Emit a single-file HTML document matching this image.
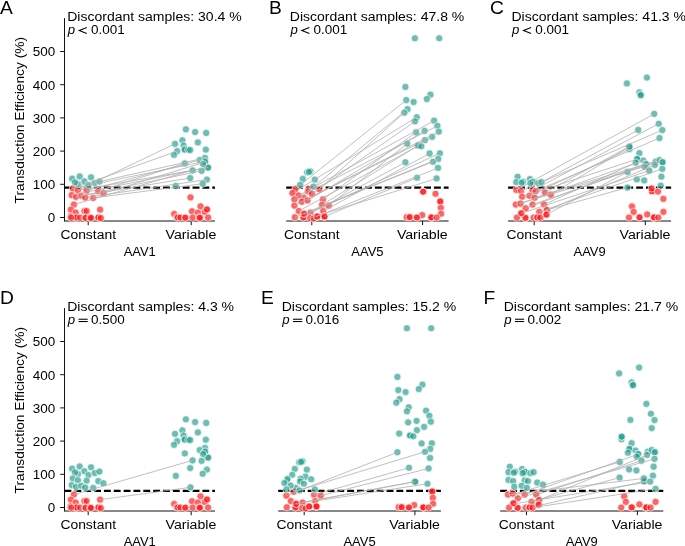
<!DOCTYPE html>
<html><head><meta charset="utf-8"><style>
html,body{margin:0;padding:0;background:#fff;}
svg{display:block;will-change:transform;}
text{font-family:'Liberation Sans',sans-serif;fill:#000;}
</style></head><body>
<svg width="685" height="546" viewBox="0 0 685 546">
<rect width="685" height="546" fill="#fff"/>
<g>
<line x1="64.5" y1="18.10" x2="64.5" y2="221.50" stroke="#111" stroke-width="1"/>
<line x1="60.2" y1="217.50" x2="64.5" y2="217.50" stroke="#111" stroke-width="1"/>
<text x="55.30" y="222.35" font-size="13" text-anchor="end" textLength="7.5" lengthAdjust="spacingAndGlyphs" style="">0</text>
<line x1="60.2" y1="184.30" x2="64.5" y2="184.30" stroke="#111" stroke-width="1"/>
<text x="55.30" y="189.15" font-size="13" text-anchor="end" textLength="22.5" lengthAdjust="spacingAndGlyphs" style="">100</text>
<line x1="60.2" y1="151.10" x2="64.5" y2="151.10" stroke="#111" stroke-width="1"/>
<text x="55.30" y="155.95" font-size="13" text-anchor="end" textLength="22.5" lengthAdjust="spacingAndGlyphs" style="">200</text>
<line x1="60.2" y1="117.90" x2="64.5" y2="117.90" stroke="#111" stroke-width="1"/>
<text x="55.30" y="122.75" font-size="13" text-anchor="end" textLength="22.5" lengthAdjust="spacingAndGlyphs" style="">300</text>
<line x1="60.2" y1="84.70" x2="64.5" y2="84.70" stroke="#111" stroke-width="1"/>
<text x="55.30" y="89.55" font-size="13" text-anchor="end" textLength="22.5" lengthAdjust="spacingAndGlyphs" style="">400</text>
<line x1="60.2" y1="51.50" x2="64.5" y2="51.50" stroke="#111" stroke-width="1"/>
<text x="55.30" y="56.35" font-size="13" text-anchor="end" textLength="22.5" lengthAdjust="spacingAndGlyphs" style="">500</text>
<text transform="translate(24.3,120.20) rotate(-90)" x="0" y="0" font-size="12.3" text-anchor="middle" textLength="166.5" lengthAdjust="spacingAndGlyphs">Transduction Efficiency (%)</text>
<line x1="64.50" y1="221.00" x2="215.00" y2="221.00" stroke="#111" stroke-width="1"/>
<line x1="88.20" y1="221.00" x2="88.20" y2="225.20" stroke="#111" stroke-width="1"/>
<line x1="191.20" y1="221.00" x2="191.20" y2="225.20" stroke="#111" stroke-width="1"/>
<text x="88.20" y="239.20" font-size="12.5" text-anchor="middle" textLength="55.6" lengthAdjust="spacingAndGlyphs" style="">Constant</text>
<text x="190.90" y="239.20" font-size="12.5" text-anchor="middle" textLength="50.8" lengthAdjust="spacingAndGlyphs" style="">Variable</text>
<text x="139.75" y="256.20" font-size="12.3" text-anchor="middle" textLength="32.2" lengthAdjust="spacingAndGlyphs" style="">AAV1</text>
</g>
<line x1="64.50" y1="187.62" x2="215.00" y2="187.62" stroke="#000" stroke-width="2.15" stroke-dasharray="6.9 2.95"/>
<circle cx="72.80" cy="188.45" r="3.6" fill="#ff1a1a" fill-opacity="0.68" stroke="#fff" stroke-opacity="0.85" stroke-width="0.8"/>
<circle cx="77.90" cy="190.25" r="3.6" fill="#ff1a1a" fill-opacity="0.68" stroke="#fff" stroke-opacity="0.85" stroke-width="0.8"/>
<circle cx="86.60" cy="190.65" r="3.6" fill="#ff1a1a" fill-opacity="0.68" stroke="#fff" stroke-opacity="0.85" stroke-width="0.8"/>
<circle cx="98.30" cy="191.05" r="3.6" fill="#ff1a1a" fill-opacity="0.68" stroke="#fff" stroke-opacity="0.85" stroke-width="0.8"/>
<circle cx="103.40" cy="193.25" r="3.6" fill="#ff1a1a" fill-opacity="0.68" stroke="#fff" stroke-opacity="0.85" stroke-width="0.8"/>
<circle cx="71.70" cy="195.05" r="3.6" fill="#ff1a1a" fill-opacity="0.68" stroke="#fff" stroke-opacity="0.85" stroke-width="0.8"/>
<circle cx="76.00" cy="196.85" r="3.6" fill="#ff1a1a" fill-opacity="0.68" stroke="#fff" stroke-opacity="0.85" stroke-width="0.8"/>
<circle cx="81.20" cy="195.75" r="3.6" fill="#ff1a1a" fill-opacity="0.68" stroke="#fff" stroke-opacity="0.85" stroke-width="0.8"/>
<circle cx="85.20" cy="197.55" r="3.6" fill="#ff1a1a" fill-opacity="0.68" stroke="#fff" stroke-opacity="0.85" stroke-width="0.8"/>
<circle cx="93.20" cy="197.95" r="3.6" fill="#ff1a1a" fill-opacity="0.68" stroke="#fff" stroke-opacity="0.85" stroke-width="0.8"/>
<circle cx="73.90" cy="204.55" r="3.6" fill="#ff1a1a" fill-opacity="0.68" stroke="#fff" stroke-opacity="0.85" stroke-width="0.8"/>
<circle cx="70.90" cy="209.65" r="3.6" fill="#ff1a1a" fill-opacity="0.68" stroke="#fff" stroke-opacity="0.85" stroke-width="0.8"/>
<circle cx="75.70" cy="212.55" r="3.6" fill="#ff1a1a" fill-opacity="0.68" stroke="#fff" stroke-opacity="0.85" stroke-width="0.8"/>
<circle cx="84.40" cy="211.05" r="3.6" fill="#ff1a1a" fill-opacity="0.68" stroke="#fff" stroke-opacity="0.85" stroke-width="0.8"/>
<circle cx="86.60" cy="211.05" r="3.6" fill="#ff1a1a" fill-opacity="0.68" stroke="#fff" stroke-opacity="0.85" stroke-width="0.8"/>
<circle cx="100.10" cy="209.65" r="3.6" fill="#ff1a1a" fill-opacity="0.68" stroke="#fff" stroke-opacity="0.85" stroke-width="0.8"/>
<circle cx="70.60" cy="216.25" r="3.6" fill="#ff1a1a" fill-opacity="0.68" stroke="#fff" stroke-opacity="0.85" stroke-width="0.8"/>
<circle cx="76.00" cy="217.65" r="3.6" fill="#ff1a1a" fill-opacity="0.68" stroke="#fff" stroke-opacity="0.85" stroke-width="0.8"/>
<circle cx="75.50" cy="217.85" r="3.6" fill="#ff1a1a" fill-opacity="0.68" stroke="#fff" stroke-opacity="0.85" stroke-width="0.8"/>
<circle cx="76.50" cy="217.45" r="3.6" fill="#ff1a1a" fill-opacity="0.68" stroke="#fff" stroke-opacity="0.85" stroke-width="0.8"/>
<circle cx="80.10" cy="217.65" r="3.6" fill="#ff1a1a" fill-opacity="0.68" stroke="#fff" stroke-opacity="0.85" stroke-width="0.8"/>
<circle cx="85.20" cy="217.65" r="3.6" fill="#ff1a1a" fill-opacity="0.68" stroke="#fff" stroke-opacity="0.85" stroke-width="0.8"/>
<circle cx="85.60" cy="217.85" r="3.6" fill="#ff1a1a" fill-opacity="0.68" stroke="#fff" stroke-opacity="0.85" stroke-width="0.8"/>
<circle cx="90.60" cy="218.05" r="3.6" fill="#ff1a1a" fill-opacity="0.68" stroke="#fff" stroke-opacity="0.85" stroke-width="0.8"/>
<circle cx="90.20" cy="217.75" r="3.6" fill="#ff1a1a" fill-opacity="0.68" stroke="#fff" stroke-opacity="0.85" stroke-width="0.8"/>
<circle cx="91.00" cy="217.95" r="3.6" fill="#ff1a1a" fill-opacity="0.68" stroke="#fff" stroke-opacity="0.85" stroke-width="0.8"/>
<circle cx="98.70" cy="217.25" r="3.6" fill="#ff1a1a" fill-opacity="0.68" stroke="#fff" stroke-opacity="0.85" stroke-width="0.8"/>
<circle cx="98.30" cy="217.65" r="3.6" fill="#ff1a1a" fill-opacity="0.68" stroke="#fff" stroke-opacity="0.85" stroke-width="0.8"/>
<circle cx="100.90" cy="218.05" r="3.6" fill="#ff1a1a" fill-opacity="0.68" stroke="#fff" stroke-opacity="0.85" stroke-width="0.8"/>
<circle cx="71.20" cy="217.65" r="3.6" fill="#ff1a1a" fill-opacity="0.68" stroke="#fff" stroke-opacity="0.85" stroke-width="0.8"/>
<circle cx="190.50" cy="197.35" r="3.6" fill="#ff1a1a" fill-opacity="0.68" stroke="#fff" stroke-opacity="0.85" stroke-width="0.8"/>
<circle cx="200.50" cy="206.35" r="3.6" fill="#ff1a1a" fill-opacity="0.68" stroke="#fff" stroke-opacity="0.85" stroke-width="0.8"/>
<circle cx="192.00" cy="211.25" r="3.6" fill="#ff1a1a" fill-opacity="0.68" stroke="#fff" stroke-opacity="0.85" stroke-width="0.8"/>
<circle cx="206.80" cy="209.95" r="3.6" fill="#ff1a1a" fill-opacity="0.68" stroke="#fff" stroke-opacity="0.85" stroke-width="0.8"/>
<circle cx="204.80" cy="211.95" r="3.6" fill="#ff1a1a" fill-opacity="0.68" stroke="#fff" stroke-opacity="0.85" stroke-width="0.8"/>
<circle cx="197.90" cy="212.65" r="3.6" fill="#ff1a1a" fill-opacity="0.68" stroke="#fff" stroke-opacity="0.85" stroke-width="0.8"/>
<circle cx="174.20" cy="213.95" r="3.6" fill="#ff1a1a" fill-opacity="0.68" stroke="#fff" stroke-opacity="0.85" stroke-width="0.8"/>
<circle cx="176.90" cy="217.25" r="3.6" fill="#ff1a1a" fill-opacity="0.68" stroke="#fff" stroke-opacity="0.85" stroke-width="0.8"/>
<circle cx="177.90" cy="217.55" r="3.6" fill="#ff1a1a" fill-opacity="0.68" stroke="#fff" stroke-opacity="0.85" stroke-width="0.8"/>
<circle cx="180.50" cy="217.55" r="3.6" fill="#ff1a1a" fill-opacity="0.68" stroke="#fff" stroke-opacity="0.85" stroke-width="0.8"/>
<circle cx="185.60" cy="217.55" r="3.6" fill="#ff1a1a" fill-opacity="0.68" stroke="#fff" stroke-opacity="0.85" stroke-width="0.8"/>
<circle cx="185.20" cy="217.75" r="3.6" fill="#ff1a1a" fill-opacity="0.68" stroke="#fff" stroke-opacity="0.85" stroke-width="0.8"/>
<circle cx="192.60" cy="217.65" r="3.6" fill="#ff1a1a" fill-opacity="0.68" stroke="#fff" stroke-opacity="0.85" stroke-width="0.8"/>
<circle cx="199.50" cy="217.65" r="3.6" fill="#ff1a1a" fill-opacity="0.68" stroke="#fff" stroke-opacity="0.85" stroke-width="0.8"/>
<circle cx="199.10" cy="217.45" r="3.6" fill="#ff1a1a" fill-opacity="0.68" stroke="#fff" stroke-opacity="0.85" stroke-width="0.8"/>
<circle cx="208.10" cy="217.55" r="3.6" fill="#ff1a1a" fill-opacity="0.68" stroke="#fff" stroke-opacity="0.85" stroke-width="0.8"/>
<circle cx="200.00" cy="217.85" r="3.6" fill="#ff1a1a" fill-opacity="0.68" stroke="#fff" stroke-opacity="0.85" stroke-width="0.8"/>
<circle cx="207.00" cy="209.45" r="3.6" fill="#ff1a1a" fill-opacity="0.68" stroke="#fff" stroke-opacity="0.85" stroke-width="0.8"/>
<circle cx="72.20" cy="178.65" r="3.6" fill="#2a9d8f" fill-opacity="0.68" stroke="#fff" stroke-opacity="0.85" stroke-width="0.8"/>
<circle cx="79.70" cy="176.45" r="3.6" fill="#2a9d8f" fill-opacity="0.68" stroke="#fff" stroke-opacity="0.85" stroke-width="0.8"/>
<circle cx="91.00" cy="177.25" r="3.6" fill="#2a9d8f" fill-opacity="0.68" stroke="#fff" stroke-opacity="0.85" stroke-width="0.8"/>
<circle cx="84.30" cy="181.25" r="3.6" fill="#2a9d8f" fill-opacity="0.68" stroke="#fff" stroke-opacity="0.85" stroke-width="0.8"/>
<circle cx="77.90" cy="184.15" r="3.6" fill="#2a9d8f" fill-opacity="0.68" stroke="#fff" stroke-opacity="0.85" stroke-width="0.8"/>
<circle cx="88.50" cy="185.05" r="3.6" fill="#2a9d8f" fill-opacity="0.68" stroke="#fff" stroke-opacity="0.85" stroke-width="0.8"/>
<circle cx="94.70" cy="183.05" r="3.6" fill="#2a9d8f" fill-opacity="0.68" stroke="#fff" stroke-opacity="0.85" stroke-width="0.8"/>
<circle cx="99.40" cy="181.55" r="3.6" fill="#2a9d8f" fill-opacity="0.68" stroke="#fff" stroke-opacity="0.85" stroke-width="0.8"/>
<circle cx="75.00" cy="182.35" r="3.6" fill="#2a9d8f" fill-opacity="0.68" stroke="#fff" stroke-opacity="0.85" stroke-width="0.8"/>
<circle cx="185.90" cy="129.35" r="3.6" fill="#2a9d8f" fill-opacity="0.68" stroke="#fff" stroke-opacity="0.85" stroke-width="0.8"/>
<circle cx="195.10" cy="132.05" r="3.6" fill="#2a9d8f" fill-opacity="0.68" stroke="#fff" stroke-opacity="0.85" stroke-width="0.8"/>
<circle cx="206.20" cy="132.95" r="3.6" fill="#2a9d8f" fill-opacity="0.68" stroke="#fff" stroke-opacity="0.85" stroke-width="0.8"/>
<circle cx="182.40" cy="140.35" r="3.6" fill="#2a9d8f" fill-opacity="0.68" stroke="#fff" stroke-opacity="0.85" stroke-width="0.8"/>
<circle cx="175.00" cy="143.85" r="3.6" fill="#2a9d8f" fill-opacity="0.68" stroke="#fff" stroke-opacity="0.85" stroke-width="0.8"/>
<circle cx="197.90" cy="142.45" r="3.6" fill="#2a9d8f" fill-opacity="0.68" stroke="#fff" stroke-opacity="0.85" stroke-width="0.8"/>
<circle cx="183.60" cy="145.55" r="3.6" fill="#2a9d8f" fill-opacity="0.68" stroke="#fff" stroke-opacity="0.85" stroke-width="0.8"/>
<circle cx="184.50" cy="149.85" r="3.6" fill="#2a9d8f" fill-opacity="0.68" stroke="#fff" stroke-opacity="0.85" stroke-width="0.8"/>
<circle cx="184.80" cy="149.45" r="3.6" fill="#2a9d8f" fill-opacity="0.68" stroke="#fff" stroke-opacity="0.85" stroke-width="0.8"/>
<circle cx="188.30" cy="149.85" r="3.6" fill="#2a9d8f" fill-opacity="0.68" stroke="#fff" stroke-opacity="0.85" stroke-width="0.8"/>
<circle cx="190.20" cy="150.05" r="3.6" fill="#2a9d8f" fill-opacity="0.68" stroke="#fff" stroke-opacity="0.85" stroke-width="0.8"/>
<circle cx="177.10" cy="151.15" r="3.6" fill="#2a9d8f" fill-opacity="0.68" stroke="#fff" stroke-opacity="0.85" stroke-width="0.8"/>
<circle cx="174.00" cy="154.85" r="3.6" fill="#2a9d8f" fill-opacity="0.68" stroke="#fff" stroke-opacity="0.85" stroke-width="0.8"/>
<circle cx="205.80" cy="149.65" r="3.6" fill="#2a9d8f" fill-opacity="0.68" stroke="#fff" stroke-opacity="0.85" stroke-width="0.8"/>
<circle cx="205.00" cy="157.95" r="3.6" fill="#2a9d8f" fill-opacity="0.68" stroke="#fff" stroke-opacity="0.85" stroke-width="0.8"/>
<circle cx="199.70" cy="160.05" r="3.6" fill="#2a9d8f" fill-opacity="0.68" stroke="#fff" stroke-opacity="0.85" stroke-width="0.8"/>
<circle cx="204.40" cy="162.25" r="3.6" fill="#2a9d8f" fill-opacity="0.68" stroke="#fff" stroke-opacity="0.85" stroke-width="0.8"/>
<circle cx="184.80" cy="163.45" r="3.6" fill="#2a9d8f" fill-opacity="0.68" stroke="#fff" stroke-opacity="0.85" stroke-width="0.8"/>
<circle cx="207.80" cy="167.35" r="3.6" fill="#2a9d8f" fill-opacity="0.68" stroke="#fff" stroke-opacity="0.85" stroke-width="0.8"/>
<circle cx="208.10" cy="167.65" r="3.6" fill="#2a9d8f" fill-opacity="0.68" stroke="#fff" stroke-opacity="0.85" stroke-width="0.8"/>
<circle cx="205.20" cy="161.45" r="3.6" fill="#2a9d8f" fill-opacity="0.68" stroke="#fff" stroke-opacity="0.85" stroke-width="0.8"/>
<circle cx="203.10" cy="164.05" r="3.6" fill="#2a9d8f" fill-opacity="0.68" stroke="#fff" stroke-opacity="0.85" stroke-width="0.8"/>
<circle cx="192.60" cy="170.35" r="3.6" fill="#2a9d8f" fill-opacity="0.68" stroke="#fff" stroke-opacity="0.85" stroke-width="0.8"/>
<circle cx="201.60" cy="170.85" r="3.6" fill="#2a9d8f" fill-opacity="0.68" stroke="#fff" stroke-opacity="0.85" stroke-width="0.8"/>
<circle cx="190.20" cy="178.05" r="3.6" fill="#2a9d8f" fill-opacity="0.68" stroke="#fff" stroke-opacity="0.85" stroke-width="0.8"/>
<circle cx="206.90" cy="179.55" r="3.6" fill="#2a9d8f" fill-opacity="0.68" stroke="#fff" stroke-opacity="0.85" stroke-width="0.8"/>
<circle cx="202.70" cy="183.75" r="3.6" fill="#2a9d8f" fill-opacity="0.68" stroke="#fff" stroke-opacity="0.85" stroke-width="0.8"/>
<circle cx="175.80" cy="185.95" r="3.6" fill="#2a9d8f" fill-opacity="0.68" stroke="#fff" stroke-opacity="0.85" stroke-width="0.8"/>
<line x1="77.90" y1="190.25" x2="175.00" y2="143.85" stroke="#b2aeae" stroke-width="0.8"/>
<line x1="72.80" y1="188.45" x2="177.10" y2="151.15" stroke="#b2aeae" stroke-width="0.8"/>
<line x1="73.90" y1="204.55" x2="192.60" y2="170.35" stroke="#b2aeae" stroke-width="0.8"/>
<line x1="86.60" y1="190.65" x2="199.70" y2="160.05" stroke="#b2aeae" stroke-width="0.8"/>
<line x1="98.30" y1="191.05" x2="184.80" y2="163.45" stroke="#b2aeae" stroke-width="0.8"/>
<line x1="103.40" y1="193.25" x2="204.40" y2="162.25" stroke="#b2aeae" stroke-width="0.8"/>
<line x1="71.70" y1="195.05" x2="207.80" y2="167.35" stroke="#b2aeae" stroke-width="0.8"/>
<line x1="76.00" y1="196.85" x2="201.60" y2="170.85" stroke="#b2aeae" stroke-width="0.8"/>
<line x1="81.20" y1="195.75" x2="190.20" y2="178.05" stroke="#b2aeae" stroke-width="0.8"/>
<line x1="85.20" y1="197.55" x2="206.90" y2="179.55" stroke="#b2aeae" stroke-width="0.8"/>
<line x1="93.20" y1="197.95" x2="202.70" y2="183.75" stroke="#b2aeae" stroke-width="0.8"/>
<line x1="99.40" y1="181.55" x2="205.00" y2="157.95" stroke="#b2aeae" stroke-width="0.8"/>
<line x1="72.80" y1="188.45" x2="205.20" y2="161.45" stroke="#b2aeae" stroke-width="0.8"/>
<line x1="77.90" y1="190.25" x2="208.10" y2="167.65" stroke="#b2aeae" stroke-width="0.8"/>
<text x="67.20" y="20.60" font-size="12.3" text-anchor="start" textLength="174.5" lengthAdjust="spacingAndGlyphs" style="">Discordant samples: 30.4 %</text>
<text x="67.80" y="34.00" font-size="13.2" font-style="italic">p</text>
<polyline points="86.80,27.40 79.20,30.40 86.80,33.40" fill="none" stroke="#000" stroke-width="1.05"/>
<text x="91.00" y="34.00" font-size="12.3" text-anchor="start" textLength="33.8" lengthAdjust="spacingAndGlyphs" style="">0.001</text>
<text x="0.00" y="14.10" font-size="19.2" text-anchor="start" style="">A</text>
<g>
<line x1="286.20" y1="221.00" x2="448.60" y2="221.00" stroke="#111" stroke-width="1"/>
<line x1="311.80" y1="221.00" x2="311.80" y2="225.20" stroke="#111" stroke-width="1"/>
<line x1="422.60" y1="221.00" x2="422.60" y2="225.20" stroke="#111" stroke-width="1"/>
<text x="311.80" y="239.20" font-size="12.5" text-anchor="middle" textLength="55.6" lengthAdjust="spacingAndGlyphs" style="">Constant</text>
<text x="422.30" y="239.20" font-size="12.5" text-anchor="middle" textLength="50.8" lengthAdjust="spacingAndGlyphs" style="">Variable</text>
<text x="367.40" y="256.20" font-size="12.3" text-anchor="middle" textLength="32.2" lengthAdjust="spacingAndGlyphs" style="">AAV5</text>
</g>
<line x1="286.20" y1="187.62" x2="448.60" y2="187.62" stroke="#000" stroke-width="2.15" stroke-dasharray="6.9 2.95"/>
<circle cx="303.80" cy="197.95" r="3.6" fill="#ff1a1a" fill-opacity="0.68" stroke="#fff" stroke-opacity="0.85" stroke-width="0.8"/>
<circle cx="308.60" cy="188.75" r="3.6" fill="#ff1a1a" fill-opacity="0.68" stroke="#fff" stroke-opacity="0.85" stroke-width="0.8"/>
<circle cx="295.00" cy="190.75" r="3.6" fill="#ff1a1a" fill-opacity="0.68" stroke="#fff" stroke-opacity="0.85" stroke-width="0.8"/>
<circle cx="295.50" cy="188.85" r="3.6" fill="#ff1a1a" fill-opacity="0.68" stroke="#fff" stroke-opacity="0.85" stroke-width="0.8"/>
<circle cx="292.40" cy="193.05" r="3.6" fill="#ff1a1a" fill-opacity="0.68" stroke="#fff" stroke-opacity="0.85" stroke-width="0.8"/>
<circle cx="298.60" cy="195.55" r="3.6" fill="#ff1a1a" fill-opacity="0.68" stroke="#fff" stroke-opacity="0.85" stroke-width="0.8"/>
<circle cx="308.10" cy="191.45" r="3.6" fill="#ff1a1a" fill-opacity="0.68" stroke="#fff" stroke-opacity="0.85" stroke-width="0.8"/>
<circle cx="311.90" cy="193.75" r="3.6" fill="#ff1a1a" fill-opacity="0.68" stroke="#fff" stroke-opacity="0.85" stroke-width="0.8"/>
<circle cx="319.20" cy="189.25" r="3.6" fill="#ff1a1a" fill-opacity="0.68" stroke="#fff" stroke-opacity="0.85" stroke-width="0.8"/>
<circle cx="294.40" cy="199.45" r="3.6" fill="#ff1a1a" fill-opacity="0.68" stroke="#fff" stroke-opacity="0.85" stroke-width="0.8"/>
<circle cx="301.70" cy="201.75" r="3.6" fill="#ff1a1a" fill-opacity="0.68" stroke="#fff" stroke-opacity="0.85" stroke-width="0.8"/>
<circle cx="307.50" cy="200.45" r="3.6" fill="#ff1a1a" fill-opacity="0.68" stroke="#fff" stroke-opacity="0.85" stroke-width="0.8"/>
<circle cx="322.90" cy="199.45" r="3.6" fill="#ff1a1a" fill-opacity="0.68" stroke="#fff" stroke-opacity="0.85" stroke-width="0.8"/>
<circle cx="294.40" cy="205.65" r="3.6" fill="#ff1a1a" fill-opacity="0.68" stroke="#fff" stroke-opacity="0.85" stroke-width="0.8"/>
<circle cx="322.10" cy="204.85" r="3.6" fill="#ff1a1a" fill-opacity="0.68" stroke="#fff" stroke-opacity="0.85" stroke-width="0.8"/>
<circle cx="328.70" cy="205.65" r="3.6" fill="#ff1a1a" fill-opacity="0.68" stroke="#fff" stroke-opacity="0.85" stroke-width="0.8"/>
<circle cx="298.80" cy="211.05" r="3.6" fill="#ff1a1a" fill-opacity="0.68" stroke="#fff" stroke-opacity="0.85" stroke-width="0.8"/>
<circle cx="303.90" cy="213.65" r="3.6" fill="#ff1a1a" fill-opacity="0.68" stroke="#fff" stroke-opacity="0.85" stroke-width="0.8"/>
<circle cx="310.50" cy="212.55" r="3.6" fill="#ff1a1a" fill-opacity="0.68" stroke="#fff" stroke-opacity="0.85" stroke-width="0.8"/>
<circle cx="323.20" cy="211.05" r="3.6" fill="#ff1a1a" fill-opacity="0.68" stroke="#fff" stroke-opacity="0.85" stroke-width="0.8"/>
<circle cx="294.80" cy="217.25" r="3.6" fill="#ff1a1a" fill-opacity="0.68" stroke="#fff" stroke-opacity="0.85" stroke-width="0.8"/>
<circle cx="303.20" cy="217.25" r="3.6" fill="#ff1a1a" fill-opacity="0.68" stroke="#fff" stroke-opacity="0.85" stroke-width="0.8"/>
<circle cx="303.60" cy="217.55" r="3.6" fill="#ff1a1a" fill-opacity="0.68" stroke="#fff" stroke-opacity="0.85" stroke-width="0.8"/>
<circle cx="310.10" cy="218.05" r="3.6" fill="#ff1a1a" fill-opacity="0.68" stroke="#fff" stroke-opacity="0.85" stroke-width="0.8"/>
<circle cx="316.70" cy="216.55" r="3.6" fill="#ff1a1a" fill-opacity="0.68" stroke="#fff" stroke-opacity="0.85" stroke-width="0.8"/>
<circle cx="317.00" cy="216.85" r="3.6" fill="#ff1a1a" fill-opacity="0.68" stroke="#fff" stroke-opacity="0.85" stroke-width="0.8"/>
<circle cx="324.70" cy="216.55" r="3.6" fill="#ff1a1a" fill-opacity="0.68" stroke="#fff" stroke-opacity="0.85" stroke-width="0.8"/>
<circle cx="324.40" cy="216.85" r="3.6" fill="#ff1a1a" fill-opacity="0.68" stroke="#fff" stroke-opacity="0.85" stroke-width="0.8"/>
<circle cx="313.70" cy="218.35" r="3.6" fill="#ff1a1a" fill-opacity="0.68" stroke="#fff" stroke-opacity="0.85" stroke-width="0.8"/>
<circle cx="304.20" cy="213.85" r="3.6" fill="#ff1a1a" fill-opacity="0.68" stroke="#fff" stroke-opacity="0.85" stroke-width="0.8"/>
<circle cx="317.20" cy="216.45" r="3.6" fill="#ff1a1a" fill-opacity="0.68" stroke="#fff" stroke-opacity="0.85" stroke-width="0.8"/>
<circle cx="324.50" cy="216.35" r="3.6" fill="#ff1a1a" fill-opacity="0.68" stroke="#fff" stroke-opacity="0.85" stroke-width="0.8"/>
<circle cx="422.90" cy="191.55" r="3.6" fill="#ff1a1a" fill-opacity="0.68" stroke="#fff" stroke-opacity="0.85" stroke-width="0.8"/>
<circle cx="423.20" cy="191.75" r="3.6" fill="#ff1a1a" fill-opacity="0.68" stroke="#fff" stroke-opacity="0.85" stroke-width="0.8"/>
<circle cx="435.50" cy="193.75" r="3.6" fill="#ff1a1a" fill-opacity="0.68" stroke="#fff" stroke-opacity="0.85" stroke-width="0.8"/>
<circle cx="440.50" cy="201.65" r="3.6" fill="#ff1a1a" fill-opacity="0.68" stroke="#fff" stroke-opacity="0.85" stroke-width="0.8"/>
<circle cx="440.20" cy="201.45" r="3.6" fill="#ff1a1a" fill-opacity="0.68" stroke="#fff" stroke-opacity="0.85" stroke-width="0.8"/>
<circle cx="440.80" cy="207.85" r="3.6" fill="#ff1a1a" fill-opacity="0.68" stroke="#fff" stroke-opacity="0.85" stroke-width="0.8"/>
<circle cx="441.10" cy="213.75" r="3.6" fill="#ff1a1a" fill-opacity="0.68" stroke="#fff" stroke-opacity="0.85" stroke-width="0.8"/>
<circle cx="422.20" cy="215.05" r="3.6" fill="#ff1a1a" fill-opacity="0.68" stroke="#fff" stroke-opacity="0.85" stroke-width="0.8"/>
<circle cx="406.70" cy="217.15" r="3.6" fill="#ff1a1a" fill-opacity="0.68" stroke="#fff" stroke-opacity="0.85" stroke-width="0.8"/>
<circle cx="410.00" cy="216.95" r="3.6" fill="#ff1a1a" fill-opacity="0.68" stroke="#fff" stroke-opacity="0.85" stroke-width="0.8"/>
<circle cx="409.60" cy="217.25" r="3.6" fill="#ff1a1a" fill-opacity="0.68" stroke="#fff" stroke-opacity="0.85" stroke-width="0.8"/>
<circle cx="416.70" cy="217.35" r="3.6" fill="#ff1a1a" fill-opacity="0.68" stroke="#fff" stroke-opacity="0.85" stroke-width="0.8"/>
<circle cx="417.00" cy="217.55" r="3.6" fill="#ff1a1a" fill-opacity="0.68" stroke="#fff" stroke-opacity="0.85" stroke-width="0.8"/>
<circle cx="431.40" cy="217.55" r="3.6" fill="#ff1a1a" fill-opacity="0.68" stroke="#fff" stroke-opacity="0.85" stroke-width="0.8"/>
<circle cx="431.70" cy="217.75" r="3.6" fill="#ff1a1a" fill-opacity="0.68" stroke="#fff" stroke-opacity="0.85" stroke-width="0.8"/>
<circle cx="431.20" cy="217.35" r="3.6" fill="#ff1a1a" fill-opacity="0.68" stroke="#fff" stroke-opacity="0.85" stroke-width="0.8"/>
<circle cx="436.60" cy="217.55" r="3.6" fill="#ff1a1a" fill-opacity="0.68" stroke="#fff" stroke-opacity="0.85" stroke-width="0.8"/>
<circle cx="307.20" cy="172.35" r="3.6" fill="#2a9d8f" fill-opacity="0.68" stroke="#fff" stroke-opacity="0.85" stroke-width="0.8"/>
<circle cx="310.50" cy="171.25" r="3.6" fill="#2a9d8f" fill-opacity="0.68" stroke="#fff" stroke-opacity="0.85" stroke-width="0.8"/>
<circle cx="309.00" cy="171.95" r="3.6" fill="#2a9d8f" fill-opacity="0.68" stroke="#fff" stroke-opacity="0.85" stroke-width="0.8"/>
<circle cx="302.80" cy="178.95" r="3.6" fill="#2a9d8f" fill-opacity="0.68" stroke="#fff" stroke-opacity="0.85" stroke-width="0.8"/>
<circle cx="314.80" cy="179.65" r="3.6" fill="#2a9d8f" fill-opacity="0.68" stroke="#fff" stroke-opacity="0.85" stroke-width="0.8"/>
<circle cx="300.20" cy="184.75" r="3.6" fill="#2a9d8f" fill-opacity="0.68" stroke="#fff" stroke-opacity="0.85" stroke-width="0.8"/>
<circle cx="313.40" cy="186.65" r="3.6" fill="#2a9d8f" fill-opacity="0.68" stroke="#fff" stroke-opacity="0.85" stroke-width="0.8"/>
<circle cx="414.90" cy="38.25" r="3.6" fill="#2a9d8f" fill-opacity="0.68" stroke="#fff" stroke-opacity="0.85" stroke-width="0.8"/>
<circle cx="439.20" cy="38.25" r="3.6" fill="#2a9d8f" fill-opacity="0.68" stroke="#fff" stroke-opacity="0.85" stroke-width="0.8"/>
<circle cx="405.40" cy="86.95" r="3.6" fill="#2a9d8f" fill-opacity="0.68" stroke="#fff" stroke-opacity="0.85" stroke-width="0.8"/>
<circle cx="430.40" cy="94.65" r="3.6" fill="#2a9d8f" fill-opacity="0.68" stroke="#fff" stroke-opacity="0.85" stroke-width="0.8"/>
<circle cx="426.80" cy="99.05" r="3.6" fill="#2a9d8f" fill-opacity="0.68" stroke="#fff" stroke-opacity="0.85" stroke-width="0.8"/>
<circle cx="406.30" cy="100.05" r="3.6" fill="#2a9d8f" fill-opacity="0.68" stroke="#fff" stroke-opacity="0.85" stroke-width="0.8"/>
<circle cx="413.60" cy="102.05" r="3.6" fill="#2a9d8f" fill-opacity="0.68" stroke="#fff" stroke-opacity="0.85" stroke-width="0.8"/>
<circle cx="407.50" cy="109.15" r="3.6" fill="#2a9d8f" fill-opacity="0.68" stroke="#fff" stroke-opacity="0.85" stroke-width="0.8"/>
<circle cx="404.30" cy="112.65" r="3.6" fill="#2a9d8f" fill-opacity="0.68" stroke="#fff" stroke-opacity="0.85" stroke-width="0.8"/>
<circle cx="416.70" cy="117.25" r="3.6" fill="#2a9d8f" fill-opacity="0.68" stroke="#fff" stroke-opacity="0.85" stroke-width="0.8"/>
<circle cx="414.90" cy="121.35" r="3.6" fill="#2a9d8f" fill-opacity="0.68" stroke="#fff" stroke-opacity="0.85" stroke-width="0.8"/>
<circle cx="434.10" cy="120.65" r="3.6" fill="#2a9d8f" fill-opacity="0.68" stroke="#fff" stroke-opacity="0.85" stroke-width="0.8"/>
<circle cx="437.40" cy="125.85" r="3.6" fill="#2a9d8f" fill-opacity="0.68" stroke="#fff" stroke-opacity="0.85" stroke-width="0.8"/>
<circle cx="424.60" cy="130.85" r="3.6" fill="#2a9d8f" fill-opacity="0.68" stroke="#fff" stroke-opacity="0.85" stroke-width="0.8"/>
<circle cx="416.10" cy="132.35" r="3.6" fill="#2a9d8f" fill-opacity="0.68" stroke="#fff" stroke-opacity="0.85" stroke-width="0.8"/>
<circle cx="438.80" cy="131.65" r="3.6" fill="#2a9d8f" fill-opacity="0.68" stroke="#fff" stroke-opacity="0.85" stroke-width="0.8"/>
<circle cx="432.10" cy="136.85" r="3.6" fill="#2a9d8f" fill-opacity="0.68" stroke="#fff" stroke-opacity="0.85" stroke-width="0.8"/>
<circle cx="424.90" cy="140.15" r="3.6" fill="#2a9d8f" fill-opacity="0.68" stroke="#fff" stroke-opacity="0.85" stroke-width="0.8"/>
<circle cx="407.20" cy="143.55" r="3.6" fill="#2a9d8f" fill-opacity="0.68" stroke="#fff" stroke-opacity="0.85" stroke-width="0.8"/>
<circle cx="418.40" cy="145.75" r="3.6" fill="#2a9d8f" fill-opacity="0.68" stroke="#fff" stroke-opacity="0.85" stroke-width="0.8"/>
<circle cx="418.00" cy="145.45" r="3.6" fill="#2a9d8f" fill-opacity="0.68" stroke="#fff" stroke-opacity="0.85" stroke-width="0.8"/>
<circle cx="421.30" cy="146.25" r="3.6" fill="#2a9d8f" fill-opacity="0.68" stroke="#fff" stroke-opacity="0.85" stroke-width="0.8"/>
<circle cx="429.60" cy="153.45" r="3.6" fill="#2a9d8f" fill-opacity="0.68" stroke="#fff" stroke-opacity="0.85" stroke-width="0.8"/>
<circle cx="439.90" cy="153.25" r="3.6" fill="#2a9d8f" fill-opacity="0.68" stroke="#fff" stroke-opacity="0.85" stroke-width="0.8"/>
<circle cx="438.20" cy="158.95" r="3.6" fill="#2a9d8f" fill-opacity="0.68" stroke="#fff" stroke-opacity="0.85" stroke-width="0.8"/>
<circle cx="405.40" cy="162.25" r="3.6" fill="#2a9d8f" fill-opacity="0.68" stroke="#fff" stroke-opacity="0.85" stroke-width="0.8"/>
<circle cx="433.00" cy="161.75" r="3.6" fill="#2a9d8f" fill-opacity="0.68" stroke="#fff" stroke-opacity="0.85" stroke-width="0.8"/>
<circle cx="438.00" cy="167.95" r="3.6" fill="#2a9d8f" fill-opacity="0.68" stroke="#fff" stroke-opacity="0.85" stroke-width="0.8"/>
<circle cx="417.00" cy="177.75" r="3.6" fill="#2a9d8f" fill-opacity="0.68" stroke="#fff" stroke-opacity="0.85" stroke-width="0.8"/>
<circle cx="436.60" cy="178.45" r="3.6" fill="#2a9d8f" fill-opacity="0.68" stroke="#fff" stroke-opacity="0.85" stroke-width="0.8"/>
<line x1="295.50" y1="188.85" x2="406.30" y2="100.05" stroke="#b2aeae" stroke-width="0.8"/>
<line x1="308.10" y1="191.45" x2="407.50" y2="109.15" stroke="#b2aeae" stroke-width="0.8"/>
<line x1="319.20" y1="189.25" x2="404.30" y2="112.65" stroke="#b2aeae" stroke-width="0.8"/>
<line x1="292.40" y1="193.05" x2="416.70" y2="117.25" stroke="#b2aeae" stroke-width="0.8"/>
<line x1="311.90" y1="193.75" x2="414.90" y2="121.35" stroke="#b2aeae" stroke-width="0.8"/>
<line x1="298.60" y1="195.55" x2="434.10" y2="120.65" stroke="#b2aeae" stroke-width="0.8"/>
<line x1="294.40" y1="199.45" x2="437.40" y2="125.85" stroke="#b2aeae" stroke-width="0.8"/>
<line x1="322.90" y1="199.45" x2="416.10" y2="132.35" stroke="#b2aeae" stroke-width="0.8"/>
<line x1="307.50" y1="200.45" x2="424.60" y2="130.85" stroke="#b2aeae" stroke-width="0.8"/>
<line x1="301.70" y1="201.75" x2="438.80" y2="131.65" stroke="#b2aeae" stroke-width="0.8"/>
<line x1="322.10" y1="204.85" x2="432.10" y2="136.85" stroke="#b2aeae" stroke-width="0.8"/>
<line x1="294.40" y1="205.65" x2="424.90" y2="140.15" stroke="#b2aeae" stroke-width="0.8"/>
<line x1="328.70" y1="205.65" x2="407.20" y2="143.55" stroke="#b2aeae" stroke-width="0.8"/>
<line x1="298.80" y1="211.05" x2="418.40" y2="145.75" stroke="#b2aeae" stroke-width="0.8"/>
<line x1="323.20" y1="211.05" x2="429.60" y2="153.45" stroke="#b2aeae" stroke-width="0.8"/>
<line x1="310.50" y1="212.55" x2="439.90" y2="153.25" stroke="#b2aeae" stroke-width="0.8"/>
<line x1="303.90" y1="213.65" x2="438.20" y2="158.95" stroke="#b2aeae" stroke-width="0.8"/>
<line x1="294.80" y1="217.25" x2="433.00" y2="161.75" stroke="#b2aeae" stroke-width="0.8"/>
<line x1="303.20" y1="217.25" x2="405.40" y2="162.25" stroke="#b2aeae" stroke-width="0.8"/>
<line x1="316.70" y1="216.55" x2="438.00" y2="167.95" stroke="#b2aeae" stroke-width="0.8"/>
<line x1="324.70" y1="216.55" x2="417.00" y2="177.75" stroke="#b2aeae" stroke-width="0.8"/>
<line x1="310.10" y1="218.05" x2="436.60" y2="178.45" stroke="#b2aeae" stroke-width="0.8"/>
<text x="289.80" y="20.60" font-size="12.3" text-anchor="start" textLength="174.5" lengthAdjust="spacingAndGlyphs" style="">Discordant samples: 47.8 %</text>
<text x="290.40" y="34.00" font-size="13.2" font-style="italic">p</text>
<polyline points="309.40,27.40 301.80,30.40 309.40,33.40" fill="none" stroke="#000" stroke-width="1.05"/>
<text x="313.60" y="34.00" font-size="12.3" text-anchor="start" textLength="33.8" lengthAdjust="spacingAndGlyphs" style="">0.001</text>
<text x="269.00" y="14.10" font-size="19.2" text-anchor="start" style="">B</text>
<g>
<line x1="508.10" y1="221.00" x2="671.10" y2="221.00" stroke="#111" stroke-width="1"/>
<line x1="534.20" y1="221.00" x2="534.20" y2="225.20" stroke="#111" stroke-width="1"/>
<line x1="645.30" y1="221.00" x2="645.30" y2="225.20" stroke="#111" stroke-width="1"/>
<text x="534.20" y="239.20" font-size="12.5" text-anchor="middle" textLength="55.6" lengthAdjust="spacingAndGlyphs" style="">Constant</text>
<text x="645.00" y="239.20" font-size="12.5" text-anchor="middle" textLength="50.8" lengthAdjust="spacingAndGlyphs" style="">Variable</text>
<text x="589.60" y="256.20" font-size="12.3" text-anchor="middle" textLength="32.2" lengthAdjust="spacingAndGlyphs" style="">AAV9</text>
</g>
<line x1="508.10" y1="187.62" x2="671.10" y2="187.62" stroke="#000" stroke-width="2.15" stroke-dasharray="6.9 2.95"/>
<circle cx="516.30" cy="189.95" r="3.6" fill="#ff1a1a" fill-opacity="0.68" stroke="#fff" stroke-opacity="0.85" stroke-width="0.8"/>
<circle cx="521.00" cy="191.05" r="3.6" fill="#ff1a1a" fill-opacity="0.68" stroke="#fff" stroke-opacity="0.85" stroke-width="0.8"/>
<circle cx="532.50" cy="190.45" r="3.6" fill="#ff1a1a" fill-opacity="0.68" stroke="#fff" stroke-opacity="0.85" stroke-width="0.8"/>
<circle cx="535.70" cy="191.05" r="3.6" fill="#ff1a1a" fill-opacity="0.68" stroke="#fff" stroke-opacity="0.85" stroke-width="0.8"/>
<circle cx="545.00" cy="192.55" r="3.6" fill="#ff1a1a" fill-opacity="0.68" stroke="#fff" stroke-opacity="0.85" stroke-width="0.8"/>
<circle cx="550.80" cy="194.65" r="3.6" fill="#ff1a1a" fill-opacity="0.68" stroke="#fff" stroke-opacity="0.85" stroke-width="0.8"/>
<circle cx="522.10" cy="196.75" r="3.6" fill="#ff1a1a" fill-opacity="0.68" stroke="#fff" stroke-opacity="0.85" stroke-width="0.8"/>
<circle cx="529.40" cy="195.75" r="3.6" fill="#ff1a1a" fill-opacity="0.68" stroke="#fff" stroke-opacity="0.85" stroke-width="0.8"/>
<circle cx="534.60" cy="197.75" r="3.6" fill="#ff1a1a" fill-opacity="0.68" stroke="#fff" stroke-opacity="0.85" stroke-width="0.8"/>
<circle cx="515.80" cy="204.55" r="3.6" fill="#ff1a1a" fill-opacity="0.68" stroke="#fff" stroke-opacity="0.85" stroke-width="0.8"/>
<circle cx="520.50" cy="203.55" r="3.6" fill="#ff1a1a" fill-opacity="0.68" stroke="#fff" stroke-opacity="0.85" stroke-width="0.8"/>
<circle cx="525.70" cy="208.25" r="3.6" fill="#ff1a1a" fill-opacity="0.68" stroke="#fff" stroke-opacity="0.85" stroke-width="0.8"/>
<circle cx="532.50" cy="204.55" r="3.6" fill="#ff1a1a" fill-opacity="0.68" stroke="#fff" stroke-opacity="0.85" stroke-width="0.8"/>
<circle cx="544.00" cy="204.55" r="3.6" fill="#ff1a1a" fill-opacity="0.68" stroke="#fff" stroke-opacity="0.85" stroke-width="0.8"/>
<circle cx="546.60" cy="210.35" r="3.6" fill="#ff1a1a" fill-opacity="0.68" stroke="#fff" stroke-opacity="0.85" stroke-width="0.8"/>
<circle cx="546.90" cy="210.05" r="3.6" fill="#ff1a1a" fill-opacity="0.68" stroke="#fff" stroke-opacity="0.85" stroke-width="0.8"/>
<circle cx="539.30" cy="211.85" r="3.6" fill="#ff1a1a" fill-opacity="0.68" stroke="#fff" stroke-opacity="0.85" stroke-width="0.8"/>
<circle cx="546.60" cy="214.45" r="3.6" fill="#ff1a1a" fill-opacity="0.68" stroke="#fff" stroke-opacity="0.85" stroke-width="0.8"/>
<circle cx="521.00" cy="213.45" r="3.6" fill="#ff1a1a" fill-opacity="0.68" stroke="#fff" stroke-opacity="0.85" stroke-width="0.8"/>
<circle cx="516.90" cy="217.65" r="3.6" fill="#ff1a1a" fill-opacity="0.68" stroke="#fff" stroke-opacity="0.85" stroke-width="0.8"/>
<circle cx="525.70" cy="218.15" r="3.6" fill="#ff1a1a" fill-opacity="0.68" stroke="#fff" stroke-opacity="0.85" stroke-width="0.8"/>
<circle cx="525.40" cy="217.75" r="3.6" fill="#ff1a1a" fill-opacity="0.68" stroke="#fff" stroke-opacity="0.85" stroke-width="0.8"/>
<circle cx="533.60" cy="217.65" r="3.6" fill="#ff1a1a" fill-opacity="0.68" stroke="#fff" stroke-opacity="0.85" stroke-width="0.8"/>
<circle cx="537.20" cy="217.65" r="3.6" fill="#ff1a1a" fill-opacity="0.68" stroke="#fff" stroke-opacity="0.85" stroke-width="0.8"/>
<circle cx="537.50" cy="217.45" r="3.6" fill="#ff1a1a" fill-opacity="0.68" stroke="#fff" stroke-opacity="0.85" stroke-width="0.8"/>
<circle cx="540.30" cy="217.65" r="3.6" fill="#ff1a1a" fill-opacity="0.68" stroke="#fff" stroke-opacity="0.85" stroke-width="0.8"/>
<circle cx="521.30" cy="213.25" r="3.6" fill="#ff1a1a" fill-opacity="0.68" stroke="#fff" stroke-opacity="0.85" stroke-width="0.8"/>
<circle cx="546.40" cy="214.65" r="3.6" fill="#ff1a1a" fill-opacity="0.68" stroke="#fff" stroke-opacity="0.85" stroke-width="0.8"/>
<circle cx="652.10" cy="191.45" r="3.6" fill="#ff1a1a" fill-opacity="0.68" stroke="#fff" stroke-opacity="0.85" stroke-width="0.8"/>
<circle cx="651.90" cy="191.15" r="3.6" fill="#ff1a1a" fill-opacity="0.68" stroke="#fff" stroke-opacity="0.85" stroke-width="0.8"/>
<circle cx="651.70" cy="188.45" r="3.6" fill="#ff1a1a" fill-opacity="0.68" stroke="#fff" stroke-opacity="0.85" stroke-width="0.8"/>
<circle cx="658.00" cy="191.55" r="3.6" fill="#ff1a1a" fill-opacity="0.68" stroke="#fff" stroke-opacity="0.85" stroke-width="0.8"/>
<circle cx="663.40" cy="198.85" r="3.6" fill="#ff1a1a" fill-opacity="0.68" stroke="#fff" stroke-opacity="0.85" stroke-width="0.8"/>
<circle cx="632.00" cy="206.45" r="3.6" fill="#ff1a1a" fill-opacity="0.68" stroke="#fff" stroke-opacity="0.85" stroke-width="0.8"/>
<circle cx="633.60" cy="211.85" r="3.6" fill="#ff1a1a" fill-opacity="0.68" stroke="#fff" stroke-opacity="0.85" stroke-width="0.8"/>
<circle cx="663.40" cy="211.85" r="3.6" fill="#ff1a1a" fill-opacity="0.68" stroke="#fff" stroke-opacity="0.85" stroke-width="0.8"/>
<circle cx="629.00" cy="217.55" r="3.6" fill="#ff1a1a" fill-opacity="0.68" stroke="#fff" stroke-opacity="0.85" stroke-width="0.8"/>
<circle cx="639.30" cy="217.55" r="3.6" fill="#ff1a1a" fill-opacity="0.68" stroke="#fff" stroke-opacity="0.85" stroke-width="0.8"/>
<circle cx="639.60" cy="217.35" r="3.6" fill="#ff1a1a" fill-opacity="0.68" stroke="#fff" stroke-opacity="0.85" stroke-width="0.8"/>
<circle cx="647.20" cy="214.45" r="3.6" fill="#ff1a1a" fill-opacity="0.68" stroke="#fff" stroke-opacity="0.85" stroke-width="0.8"/>
<circle cx="653.90" cy="217.55" r="3.6" fill="#ff1a1a" fill-opacity="0.68" stroke="#fff" stroke-opacity="0.85" stroke-width="0.8"/>
<circle cx="653.60" cy="217.75" r="3.6" fill="#ff1a1a" fill-opacity="0.68" stroke="#fff" stroke-opacity="0.85" stroke-width="0.8"/>
<circle cx="654.20" cy="217.35" r="3.6" fill="#ff1a1a" fill-opacity="0.68" stroke="#fff" stroke-opacity="0.85" stroke-width="0.8"/>
<circle cx="658.30" cy="217.55" r="3.6" fill="#ff1a1a" fill-opacity="0.68" stroke="#fff" stroke-opacity="0.85" stroke-width="0.8"/>
<circle cx="517.60" cy="176.75" r="3.6" fill="#2a9d8f" fill-opacity="0.68" stroke="#fff" stroke-opacity="0.85" stroke-width="0.8"/>
<circle cx="516.30" cy="182.15" r="3.6" fill="#2a9d8f" fill-opacity="0.68" stroke="#fff" stroke-opacity="0.85" stroke-width="0.8"/>
<circle cx="523.10" cy="181.65" r="3.6" fill="#2a9d8f" fill-opacity="0.68" stroke="#fff" stroke-opacity="0.85" stroke-width="0.8"/>
<circle cx="529.90" cy="179.05" r="3.6" fill="#2a9d8f" fill-opacity="0.68" stroke="#fff" stroke-opacity="0.85" stroke-width="0.8"/>
<circle cx="532.50" cy="182.15" r="3.6" fill="#2a9d8f" fill-opacity="0.68" stroke="#fff" stroke-opacity="0.85" stroke-width="0.8"/>
<circle cx="532.80" cy="181.85" r="3.6" fill="#2a9d8f" fill-opacity="0.68" stroke="#fff" stroke-opacity="0.85" stroke-width="0.8"/>
<circle cx="530.40" cy="183.15" r="3.6" fill="#2a9d8f" fill-opacity="0.68" stroke="#fff" stroke-opacity="0.85" stroke-width="0.8"/>
<circle cx="538.30" cy="183.15" r="3.6" fill="#2a9d8f" fill-opacity="0.68" stroke="#fff" stroke-opacity="0.85" stroke-width="0.8"/>
<circle cx="541.40" cy="182.15" r="3.6" fill="#2a9d8f" fill-opacity="0.68" stroke="#fff" stroke-opacity="0.85" stroke-width="0.8"/>
<circle cx="521.60" cy="182.65" r="3.6" fill="#2a9d8f" fill-opacity="0.68" stroke="#fff" stroke-opacity="0.85" stroke-width="0.8"/>
<circle cx="646.90" cy="77.55" r="3.6" fill="#2a9d8f" fill-opacity="0.68" stroke="#fff" stroke-opacity="0.85" stroke-width="0.8"/>
<circle cx="626.90" cy="83.45" r="3.6" fill="#2a9d8f" fill-opacity="0.68" stroke="#fff" stroke-opacity="0.85" stroke-width="0.8"/>
<circle cx="639.40" cy="92.45" r="3.6" fill="#2a9d8f" fill-opacity="0.68" stroke="#fff" stroke-opacity="0.85" stroke-width="0.8"/>
<circle cx="640.50" cy="94.85" r="3.6" fill="#2a9d8f" fill-opacity="0.68" stroke="#fff" stroke-opacity="0.85" stroke-width="0.8"/>
<circle cx="640.80" cy="95.15" r="3.6" fill="#2a9d8f" fill-opacity="0.68" stroke="#fff" stroke-opacity="0.85" stroke-width="0.8"/>
<circle cx="654.20" cy="113.85" r="3.6" fill="#2a9d8f" fill-opacity="0.68" stroke="#fff" stroke-opacity="0.85" stroke-width="0.8"/>
<circle cx="658.70" cy="123.75" r="3.6" fill="#2a9d8f" fill-opacity="0.68" stroke="#fff" stroke-opacity="0.85" stroke-width="0.8"/>
<circle cx="638.20" cy="129.95" r="3.6" fill="#2a9d8f" fill-opacity="0.68" stroke="#fff" stroke-opacity="0.85" stroke-width="0.8"/>
<circle cx="662.30" cy="130.05" r="3.6" fill="#2a9d8f" fill-opacity="0.68" stroke="#fff" stroke-opacity="0.85" stroke-width="0.8"/>
<circle cx="659.50" cy="138.05" r="3.6" fill="#2a9d8f" fill-opacity="0.68" stroke="#fff" stroke-opacity="0.85" stroke-width="0.8"/>
<circle cx="629.30" cy="149.15" r="3.6" fill="#2a9d8f" fill-opacity="0.68" stroke="#fff" stroke-opacity="0.85" stroke-width="0.8"/>
<circle cx="629.30" cy="146.45" r="3.6" fill="#2a9d8f" fill-opacity="0.68" stroke="#fff" stroke-opacity="0.85" stroke-width="0.8"/>
<circle cx="629.50" cy="146.75" r="3.6" fill="#2a9d8f" fill-opacity="0.68" stroke="#fff" stroke-opacity="0.85" stroke-width="0.8"/>
<circle cx="639.40" cy="153.15" r="3.6" fill="#2a9d8f" fill-opacity="0.68" stroke="#fff" stroke-opacity="0.85" stroke-width="0.8"/>
<circle cx="637.00" cy="159.15" r="3.6" fill="#2a9d8f" fill-opacity="0.68" stroke="#fff" stroke-opacity="0.85" stroke-width="0.8"/>
<circle cx="637.30" cy="158.85" r="3.6" fill="#2a9d8f" fill-opacity="0.68" stroke="#fff" stroke-opacity="0.85" stroke-width="0.8"/>
<circle cx="635.70" cy="162.75" r="3.6" fill="#2a9d8f" fill-opacity="0.68" stroke="#fff" stroke-opacity="0.85" stroke-width="0.8"/>
<circle cx="643.40" cy="160.55" r="3.6" fill="#2a9d8f" fill-opacity="0.68" stroke="#fff" stroke-opacity="0.85" stroke-width="0.8"/>
<circle cx="645.80" cy="163.85" r="3.6" fill="#2a9d8f" fill-opacity="0.68" stroke="#fff" stroke-opacity="0.85" stroke-width="0.8"/>
<circle cx="646.00" cy="164.15" r="3.6" fill="#2a9d8f" fill-opacity="0.68" stroke="#fff" stroke-opacity="0.85" stroke-width="0.8"/>
<circle cx="644.70" cy="166.65" r="3.6" fill="#2a9d8f" fill-opacity="0.68" stroke="#fff" stroke-opacity="0.85" stroke-width="0.8"/>
<circle cx="655.70" cy="161.65" r="3.6" fill="#2a9d8f" fill-opacity="0.68" stroke="#fff" stroke-opacity="0.85" stroke-width="0.8"/>
<circle cx="654.80" cy="164.95" r="3.6" fill="#2a9d8f" fill-opacity="0.68" stroke="#fff" stroke-opacity="0.85" stroke-width="0.8"/>
<circle cx="659.50" cy="160.05" r="3.6" fill="#2a9d8f" fill-opacity="0.68" stroke="#fff" stroke-opacity="0.85" stroke-width="0.8"/>
<circle cx="662.80" cy="161.95" r="3.6" fill="#2a9d8f" fill-opacity="0.68" stroke="#fff" stroke-opacity="0.85" stroke-width="0.8"/>
<circle cx="662.50" cy="162.25" r="3.6" fill="#2a9d8f" fill-opacity="0.68" stroke="#fff" stroke-opacity="0.85" stroke-width="0.8"/>
<circle cx="662.30" cy="168.85" r="3.6" fill="#2a9d8f" fill-opacity="0.68" stroke="#fff" stroke-opacity="0.85" stroke-width="0.8"/>
<circle cx="649.30" cy="170.65" r="3.6" fill="#2a9d8f" fill-opacity="0.68" stroke="#fff" stroke-opacity="0.85" stroke-width="0.8"/>
<circle cx="627.50" cy="171.95" r="3.6" fill="#2a9d8f" fill-opacity="0.68" stroke="#fff" stroke-opacity="0.85" stroke-width="0.8"/>
<circle cx="661.40" cy="176.65" r="3.6" fill="#2a9d8f" fill-opacity="0.68" stroke="#fff" stroke-opacity="0.85" stroke-width="0.8"/>
<circle cx="636.90" cy="179.45" r="3.6" fill="#2a9d8f" fill-opacity="0.68" stroke="#fff" stroke-opacity="0.85" stroke-width="0.8"/>
<circle cx="644.20" cy="180.45" r="3.6" fill="#2a9d8f" fill-opacity="0.68" stroke="#fff" stroke-opacity="0.85" stroke-width="0.8"/>
<circle cx="627.40" cy="187.55" r="3.6" fill="#2a9d8f" fill-opacity="0.68" stroke="#fff" stroke-opacity="0.85" stroke-width="0.8"/>
<circle cx="660.70" cy="185.65" r="3.6" fill="#2a9d8f" fill-opacity="0.68" stroke="#fff" stroke-opacity="0.85" stroke-width="0.8"/>
<line x1="541.40" y1="182.15" x2="638.20" y2="129.95" stroke="#b2aeae" stroke-width="0.8"/>
<line x1="516.30" y1="189.95" x2="654.20" y2="113.85" stroke="#b2aeae" stroke-width="0.8"/>
<line x1="532.50" y1="190.45" x2="658.70" y2="123.75" stroke="#b2aeae" stroke-width="0.8"/>
<line x1="521.00" y1="191.05" x2="662.30" y2="130.05" stroke="#b2aeae" stroke-width="0.8"/>
<line x1="535.70" y1="191.05" x2="659.50" y2="138.05" stroke="#b2aeae" stroke-width="0.8"/>
<line x1="545.00" y1="192.55" x2="629.30" y2="146.45" stroke="#b2aeae" stroke-width="0.8"/>
<line x1="550.80" y1="194.65" x2="629.50" y2="146.75" stroke="#b2aeae" stroke-width="0.8"/>
<line x1="529.40" y1="195.75" x2="629.30" y2="149.15" stroke="#b2aeae" stroke-width="0.8"/>
<line x1="522.10" y1="196.75" x2="637.00" y2="159.15" stroke="#b2aeae" stroke-width="0.8"/>
<line x1="534.60" y1="197.75" x2="659.50" y2="160.05" stroke="#b2aeae" stroke-width="0.8"/>
<line x1="520.50" y1="203.55" x2="643.40" y2="160.55" stroke="#b2aeae" stroke-width="0.8"/>
<line x1="515.80" y1="204.55" x2="661.70" y2="161.45" stroke="#b2aeae" stroke-width="0.8"/>
<line x1="532.50" y1="204.55" x2="655.70" y2="161.65" stroke="#b2aeae" stroke-width="0.8"/>
<line x1="544.00" y1="204.55" x2="635.70" y2="162.75" stroke="#b2aeae" stroke-width="0.8"/>
<line x1="525.70" y1="208.25" x2="645.80" y2="163.85" stroke="#b2aeae" stroke-width="0.8"/>
<line x1="546.60" y1="210.35" x2="654.80" y2="164.95" stroke="#b2aeae" stroke-width="0.8"/>
<line x1="539.30" y1="211.85" x2="662.30" y2="168.85" stroke="#b2aeae" stroke-width="0.8"/>
<line x1="521.00" y1="213.45" x2="649.30" y2="170.65" stroke="#b2aeae" stroke-width="0.8"/>
<line x1="546.60" y1="214.45" x2="627.50" y2="171.95" stroke="#b2aeae" stroke-width="0.8"/>
<line x1="546.90" y1="210.05" x2="627.40" y2="187.55" stroke="#b2aeae" stroke-width="0.8"/>
<text x="511.50" y="20.60" font-size="12.3" text-anchor="start" textLength="174.5" lengthAdjust="spacingAndGlyphs" style="">Discordant samples: 41.3 %</text>
<text x="512.10" y="34.00" font-size="13.2" font-style="italic">p</text>
<polyline points="531.10,27.40 523.50,30.40 531.10,33.40" fill="none" stroke="#000" stroke-width="1.05"/>
<text x="535.30" y="34.00" font-size="12.3" text-anchor="start" textLength="33.8" lengthAdjust="spacingAndGlyphs" style="">0.001</text>
<text x="490.10" y="14.10" font-size="19.2" text-anchor="start" style="">C</text>
<g>
<line x1="64.5" y1="308.10" x2="64.5" y2="511.50" stroke="#111" stroke-width="1"/>
<line x1="60.2" y1="507.50" x2="64.5" y2="507.50" stroke="#111" stroke-width="1"/>
<text x="55.30" y="512.35" font-size="13" text-anchor="end" textLength="7.5" lengthAdjust="spacingAndGlyphs" style="">0</text>
<line x1="60.2" y1="474.30" x2="64.5" y2="474.30" stroke="#111" stroke-width="1"/>
<text x="55.30" y="479.15" font-size="13" text-anchor="end" textLength="22.5" lengthAdjust="spacingAndGlyphs" style="">100</text>
<line x1="60.2" y1="441.10" x2="64.5" y2="441.10" stroke="#111" stroke-width="1"/>
<text x="55.30" y="445.95" font-size="13" text-anchor="end" textLength="22.5" lengthAdjust="spacingAndGlyphs" style="">200</text>
<line x1="60.2" y1="407.90" x2="64.5" y2="407.90" stroke="#111" stroke-width="1"/>
<text x="55.30" y="412.75" font-size="13" text-anchor="end" textLength="22.5" lengthAdjust="spacingAndGlyphs" style="">300</text>
<line x1="60.2" y1="374.70" x2="64.5" y2="374.70" stroke="#111" stroke-width="1"/>
<text x="55.30" y="379.55" font-size="13" text-anchor="end" textLength="22.5" lengthAdjust="spacingAndGlyphs" style="">400</text>
<line x1="60.2" y1="341.50" x2="64.5" y2="341.50" stroke="#111" stroke-width="1"/>
<text x="55.30" y="346.35" font-size="13" text-anchor="end" textLength="22.5" lengthAdjust="spacingAndGlyphs" style="">500</text>
<text transform="translate(24.3,410.20) rotate(-90)" x="0" y="0" font-size="12.3" text-anchor="middle" textLength="166.5" lengthAdjust="spacingAndGlyphs">Transduction Efficiency (%)</text>
<line x1="64.50" y1="511.00" x2="215.00" y2="511.00" stroke="#111" stroke-width="1"/>
<line x1="88.20" y1="511.00" x2="88.20" y2="515.20" stroke="#111" stroke-width="1"/>
<line x1="191.20" y1="511.00" x2="191.20" y2="515.20" stroke="#111" stroke-width="1"/>
<text x="88.20" y="529.20" font-size="12.5" text-anchor="middle" textLength="55.6" lengthAdjust="spacingAndGlyphs" style="">Constant</text>
<text x="190.90" y="529.20" font-size="12.5" text-anchor="middle" textLength="50.8" lengthAdjust="spacingAndGlyphs" style="">Variable</text>
<text x="139.75" y="546.20" font-size="12.3" text-anchor="middle" textLength="32.2" lengthAdjust="spacingAndGlyphs" style="">AAV1</text>
</g>
<line x1="64.50" y1="490.90" x2="215.00" y2="490.90" stroke="#000" stroke-width="2.15" stroke-dasharray="6.9 2.95"/>
<circle cx="73.90" cy="494.55" r="3.6" fill="#ff1a1a" fill-opacity="0.68" stroke="#fff" stroke-opacity="0.85" stroke-width="0.8"/>
<circle cx="70.90" cy="499.65" r="3.6" fill="#ff1a1a" fill-opacity="0.68" stroke="#fff" stroke-opacity="0.85" stroke-width="0.8"/>
<circle cx="75.70" cy="502.55" r="3.6" fill="#ff1a1a" fill-opacity="0.68" stroke="#fff" stroke-opacity="0.85" stroke-width="0.8"/>
<circle cx="84.40" cy="501.05" r="3.6" fill="#ff1a1a" fill-opacity="0.68" stroke="#fff" stroke-opacity="0.85" stroke-width="0.8"/>
<circle cx="86.60" cy="501.05" r="3.6" fill="#ff1a1a" fill-opacity="0.68" stroke="#fff" stroke-opacity="0.85" stroke-width="0.8"/>
<circle cx="100.10" cy="499.65" r="3.6" fill="#ff1a1a" fill-opacity="0.68" stroke="#fff" stroke-opacity="0.85" stroke-width="0.8"/>
<circle cx="70.60" cy="506.25" r="3.6" fill="#ff1a1a" fill-opacity="0.68" stroke="#fff" stroke-opacity="0.85" stroke-width="0.8"/>
<circle cx="76.00" cy="507.65" r="3.6" fill="#ff1a1a" fill-opacity="0.68" stroke="#fff" stroke-opacity="0.85" stroke-width="0.8"/>
<circle cx="75.50" cy="507.85" r="3.6" fill="#ff1a1a" fill-opacity="0.68" stroke="#fff" stroke-opacity="0.85" stroke-width="0.8"/>
<circle cx="76.50" cy="507.45" r="3.6" fill="#ff1a1a" fill-opacity="0.68" stroke="#fff" stroke-opacity="0.85" stroke-width="0.8"/>
<circle cx="80.10" cy="507.65" r="3.6" fill="#ff1a1a" fill-opacity="0.68" stroke="#fff" stroke-opacity="0.85" stroke-width="0.8"/>
<circle cx="85.20" cy="507.65" r="3.6" fill="#ff1a1a" fill-opacity="0.68" stroke="#fff" stroke-opacity="0.85" stroke-width="0.8"/>
<circle cx="85.60" cy="507.85" r="3.6" fill="#ff1a1a" fill-opacity="0.68" stroke="#fff" stroke-opacity="0.85" stroke-width="0.8"/>
<circle cx="90.60" cy="508.05" r="3.6" fill="#ff1a1a" fill-opacity="0.68" stroke="#fff" stroke-opacity="0.85" stroke-width="0.8"/>
<circle cx="90.20" cy="507.75" r="3.6" fill="#ff1a1a" fill-opacity="0.68" stroke="#fff" stroke-opacity="0.85" stroke-width="0.8"/>
<circle cx="91.00" cy="507.95" r="3.6" fill="#ff1a1a" fill-opacity="0.68" stroke="#fff" stroke-opacity="0.85" stroke-width="0.8"/>
<circle cx="98.70" cy="507.25" r="3.6" fill="#ff1a1a" fill-opacity="0.68" stroke="#fff" stroke-opacity="0.85" stroke-width="0.8"/>
<circle cx="98.30" cy="507.65" r="3.6" fill="#ff1a1a" fill-opacity="0.68" stroke="#fff" stroke-opacity="0.85" stroke-width="0.8"/>
<circle cx="100.90" cy="508.05" r="3.6" fill="#ff1a1a" fill-opacity="0.68" stroke="#fff" stroke-opacity="0.85" stroke-width="0.8"/>
<circle cx="71.20" cy="507.65" r="3.6" fill="#ff1a1a" fill-opacity="0.68" stroke="#fff" stroke-opacity="0.85" stroke-width="0.8"/>
<circle cx="200.50" cy="496.35" r="3.6" fill="#ff1a1a" fill-opacity="0.68" stroke="#fff" stroke-opacity="0.85" stroke-width="0.8"/>
<circle cx="192.00" cy="501.25" r="3.6" fill="#ff1a1a" fill-opacity="0.68" stroke="#fff" stroke-opacity="0.85" stroke-width="0.8"/>
<circle cx="206.80" cy="499.95" r="3.6" fill="#ff1a1a" fill-opacity="0.68" stroke="#fff" stroke-opacity="0.85" stroke-width="0.8"/>
<circle cx="204.80" cy="501.95" r="3.6" fill="#ff1a1a" fill-opacity="0.68" stroke="#fff" stroke-opacity="0.85" stroke-width="0.8"/>
<circle cx="197.90" cy="502.65" r="3.6" fill="#ff1a1a" fill-opacity="0.68" stroke="#fff" stroke-opacity="0.85" stroke-width="0.8"/>
<circle cx="174.20" cy="503.95" r="3.6" fill="#ff1a1a" fill-opacity="0.68" stroke="#fff" stroke-opacity="0.85" stroke-width="0.8"/>
<circle cx="176.90" cy="507.25" r="3.6" fill="#ff1a1a" fill-opacity="0.68" stroke="#fff" stroke-opacity="0.85" stroke-width="0.8"/>
<circle cx="177.90" cy="507.55" r="3.6" fill="#ff1a1a" fill-opacity="0.68" stroke="#fff" stroke-opacity="0.85" stroke-width="0.8"/>
<circle cx="180.50" cy="507.55" r="3.6" fill="#ff1a1a" fill-opacity="0.68" stroke="#fff" stroke-opacity="0.85" stroke-width="0.8"/>
<circle cx="185.60" cy="507.55" r="3.6" fill="#ff1a1a" fill-opacity="0.68" stroke="#fff" stroke-opacity="0.85" stroke-width="0.8"/>
<circle cx="185.20" cy="507.75" r="3.6" fill="#ff1a1a" fill-opacity="0.68" stroke="#fff" stroke-opacity="0.85" stroke-width="0.8"/>
<circle cx="192.60" cy="507.65" r="3.6" fill="#ff1a1a" fill-opacity="0.68" stroke="#fff" stroke-opacity="0.85" stroke-width="0.8"/>
<circle cx="199.50" cy="507.65" r="3.6" fill="#ff1a1a" fill-opacity="0.68" stroke="#fff" stroke-opacity="0.85" stroke-width="0.8"/>
<circle cx="199.10" cy="507.45" r="3.6" fill="#ff1a1a" fill-opacity="0.68" stroke="#fff" stroke-opacity="0.85" stroke-width="0.8"/>
<circle cx="208.10" cy="507.55" r="3.6" fill="#ff1a1a" fill-opacity="0.68" stroke="#fff" stroke-opacity="0.85" stroke-width="0.8"/>
<circle cx="200.00" cy="507.85" r="3.6" fill="#ff1a1a" fill-opacity="0.68" stroke="#fff" stroke-opacity="0.85" stroke-width="0.8"/>
<circle cx="207.00" cy="499.45" r="3.6" fill="#ff1a1a" fill-opacity="0.68" stroke="#fff" stroke-opacity="0.85" stroke-width="0.8"/>
<circle cx="72.20" cy="468.65" r="3.6" fill="#2a9d8f" fill-opacity="0.68" stroke="#fff" stroke-opacity="0.85" stroke-width="0.8"/>
<circle cx="79.70" cy="466.45" r="3.6" fill="#2a9d8f" fill-opacity="0.68" stroke="#fff" stroke-opacity="0.85" stroke-width="0.8"/>
<circle cx="91.00" cy="467.25" r="3.6" fill="#2a9d8f" fill-opacity="0.68" stroke="#fff" stroke-opacity="0.85" stroke-width="0.8"/>
<circle cx="84.30" cy="471.25" r="3.6" fill="#2a9d8f" fill-opacity="0.68" stroke="#fff" stroke-opacity="0.85" stroke-width="0.8"/>
<circle cx="77.90" cy="474.15" r="3.6" fill="#2a9d8f" fill-opacity="0.68" stroke="#fff" stroke-opacity="0.85" stroke-width="0.8"/>
<circle cx="88.50" cy="475.05" r="3.6" fill="#2a9d8f" fill-opacity="0.68" stroke="#fff" stroke-opacity="0.85" stroke-width="0.8"/>
<circle cx="94.70" cy="473.05" r="3.6" fill="#2a9d8f" fill-opacity="0.68" stroke="#fff" stroke-opacity="0.85" stroke-width="0.8"/>
<circle cx="99.40" cy="471.55" r="3.6" fill="#2a9d8f" fill-opacity="0.68" stroke="#fff" stroke-opacity="0.85" stroke-width="0.8"/>
<circle cx="75.00" cy="472.35" r="3.6" fill="#2a9d8f" fill-opacity="0.68" stroke="#fff" stroke-opacity="0.85" stroke-width="0.8"/>
<circle cx="72.80" cy="478.45" r="3.6" fill="#2a9d8f" fill-opacity="0.68" stroke="#fff" stroke-opacity="0.85" stroke-width="0.8"/>
<circle cx="77.90" cy="480.25" r="3.6" fill="#2a9d8f" fill-opacity="0.68" stroke="#fff" stroke-opacity="0.85" stroke-width="0.8"/>
<circle cx="86.60" cy="480.65" r="3.6" fill="#2a9d8f" fill-opacity="0.68" stroke="#fff" stroke-opacity="0.85" stroke-width="0.8"/>
<circle cx="98.30" cy="481.05" r="3.6" fill="#2a9d8f" fill-opacity="0.68" stroke="#fff" stroke-opacity="0.85" stroke-width="0.8"/>
<circle cx="103.40" cy="483.25" r="3.6" fill="#2a9d8f" fill-opacity="0.68" stroke="#fff" stroke-opacity="0.85" stroke-width="0.8"/>
<circle cx="71.70" cy="485.05" r="3.6" fill="#2a9d8f" fill-opacity="0.68" stroke="#fff" stroke-opacity="0.85" stroke-width="0.8"/>
<circle cx="76.00" cy="486.85" r="3.6" fill="#2a9d8f" fill-opacity="0.68" stroke="#fff" stroke-opacity="0.85" stroke-width="0.8"/>
<circle cx="81.20" cy="485.75" r="3.6" fill="#2a9d8f" fill-opacity="0.68" stroke="#fff" stroke-opacity="0.85" stroke-width="0.8"/>
<circle cx="85.20" cy="487.55" r="3.6" fill="#2a9d8f" fill-opacity="0.68" stroke="#fff" stroke-opacity="0.85" stroke-width="0.8"/>
<circle cx="93.20" cy="487.95" r="3.6" fill="#2a9d8f" fill-opacity="0.68" stroke="#fff" stroke-opacity="0.85" stroke-width="0.8"/>
<circle cx="185.90" cy="419.35" r="3.6" fill="#2a9d8f" fill-opacity="0.68" stroke="#fff" stroke-opacity="0.85" stroke-width="0.8"/>
<circle cx="195.10" cy="422.05" r="3.6" fill="#2a9d8f" fill-opacity="0.68" stroke="#fff" stroke-opacity="0.85" stroke-width="0.8"/>
<circle cx="206.20" cy="422.95" r="3.6" fill="#2a9d8f" fill-opacity="0.68" stroke="#fff" stroke-opacity="0.85" stroke-width="0.8"/>
<circle cx="182.40" cy="430.35" r="3.6" fill="#2a9d8f" fill-opacity="0.68" stroke="#fff" stroke-opacity="0.85" stroke-width="0.8"/>
<circle cx="175.00" cy="433.85" r="3.6" fill="#2a9d8f" fill-opacity="0.68" stroke="#fff" stroke-opacity="0.85" stroke-width="0.8"/>
<circle cx="197.90" cy="432.45" r="3.6" fill="#2a9d8f" fill-opacity="0.68" stroke="#fff" stroke-opacity="0.85" stroke-width="0.8"/>
<circle cx="183.60" cy="435.55" r="3.6" fill="#2a9d8f" fill-opacity="0.68" stroke="#fff" stroke-opacity="0.85" stroke-width="0.8"/>
<circle cx="184.50" cy="439.85" r="3.6" fill="#2a9d8f" fill-opacity="0.68" stroke="#fff" stroke-opacity="0.85" stroke-width="0.8"/>
<circle cx="184.80" cy="439.45" r="3.6" fill="#2a9d8f" fill-opacity="0.68" stroke="#fff" stroke-opacity="0.85" stroke-width="0.8"/>
<circle cx="188.30" cy="439.85" r="3.6" fill="#2a9d8f" fill-opacity="0.68" stroke="#fff" stroke-opacity="0.85" stroke-width="0.8"/>
<circle cx="190.20" cy="440.05" r="3.6" fill="#2a9d8f" fill-opacity="0.68" stroke="#fff" stroke-opacity="0.85" stroke-width="0.8"/>
<circle cx="177.10" cy="441.15" r="3.6" fill="#2a9d8f" fill-opacity="0.68" stroke="#fff" stroke-opacity="0.85" stroke-width="0.8"/>
<circle cx="174.00" cy="444.85" r="3.6" fill="#2a9d8f" fill-opacity="0.68" stroke="#fff" stroke-opacity="0.85" stroke-width="0.8"/>
<circle cx="205.80" cy="439.65" r="3.6" fill="#2a9d8f" fill-opacity="0.68" stroke="#fff" stroke-opacity="0.85" stroke-width="0.8"/>
<circle cx="205.00" cy="447.95" r="3.6" fill="#2a9d8f" fill-opacity="0.68" stroke="#fff" stroke-opacity="0.85" stroke-width="0.8"/>
<circle cx="199.70" cy="450.05" r="3.6" fill="#2a9d8f" fill-opacity="0.68" stroke="#fff" stroke-opacity="0.85" stroke-width="0.8"/>
<circle cx="204.40" cy="452.25" r="3.6" fill="#2a9d8f" fill-opacity="0.68" stroke="#fff" stroke-opacity="0.85" stroke-width="0.8"/>
<circle cx="184.80" cy="453.45" r="3.6" fill="#2a9d8f" fill-opacity="0.68" stroke="#fff" stroke-opacity="0.85" stroke-width="0.8"/>
<circle cx="207.80" cy="457.35" r="3.6" fill="#2a9d8f" fill-opacity="0.68" stroke="#fff" stroke-opacity="0.85" stroke-width="0.8"/>
<circle cx="208.10" cy="457.65" r="3.6" fill="#2a9d8f" fill-opacity="0.68" stroke="#fff" stroke-opacity="0.85" stroke-width="0.8"/>
<circle cx="205.20" cy="451.45" r="3.6" fill="#2a9d8f" fill-opacity="0.68" stroke="#fff" stroke-opacity="0.85" stroke-width="0.8"/>
<circle cx="203.10" cy="454.05" r="3.6" fill="#2a9d8f" fill-opacity="0.68" stroke="#fff" stroke-opacity="0.85" stroke-width="0.8"/>
<circle cx="192.60" cy="460.35" r="3.6" fill="#2a9d8f" fill-opacity="0.68" stroke="#fff" stroke-opacity="0.85" stroke-width="0.8"/>
<circle cx="201.60" cy="460.85" r="3.6" fill="#2a9d8f" fill-opacity="0.68" stroke="#fff" stroke-opacity="0.85" stroke-width="0.8"/>
<circle cx="190.20" cy="468.05" r="3.6" fill="#2a9d8f" fill-opacity="0.68" stroke="#fff" stroke-opacity="0.85" stroke-width="0.8"/>
<circle cx="206.90" cy="469.55" r="3.6" fill="#2a9d8f" fill-opacity="0.68" stroke="#fff" stroke-opacity="0.85" stroke-width="0.8"/>
<circle cx="202.70" cy="473.75" r="3.6" fill="#2a9d8f" fill-opacity="0.68" stroke="#fff" stroke-opacity="0.85" stroke-width="0.8"/>
<circle cx="175.80" cy="475.95" r="3.6" fill="#2a9d8f" fill-opacity="0.68" stroke="#fff" stroke-opacity="0.85" stroke-width="0.8"/>
<circle cx="190.50" cy="487.35" r="3.6" fill="#2a9d8f" fill-opacity="0.68" stroke="#fff" stroke-opacity="0.85" stroke-width="0.8"/>
<line x1="73.90" y1="494.55" x2="192.60" y2="460.35" stroke="#b2aeae" stroke-width="0.8"/>
<line x1="100.10" y1="499.65" x2="190.50" y2="487.35" stroke="#b2aeae" stroke-width="0.8"/>
<text x="67.20" y="310.60" font-size="12.3" text-anchor="start" textLength="166.9" lengthAdjust="spacingAndGlyphs" style="">Discordant samples: 4.3 %</text>
<text x="67.80" y="324.00" font-size="13.2" font-style="italic">p</text>
<rect x="78.50" y="318.70" width="9.2" height="1.05" fill="#000"/>
<rect x="78.50" y="321.00" width="9.2" height="1.05" fill="#000"/>
<text x="91.00" y="324.00" font-size="12.3" text-anchor="start" textLength="33.8" lengthAdjust="spacingAndGlyphs" style="">0.500</text>
<text x="0.10" y="304.10" font-size="19.2" text-anchor="start" style="">D</text>
<g>
<line x1="278.20" y1="511.00" x2="440.90" y2="511.00" stroke="#111" stroke-width="1"/>
<line x1="304.20" y1="511.00" x2="304.20" y2="515.20" stroke="#111" stroke-width="1"/>
<line x1="414.90" y1="511.00" x2="414.90" y2="515.20" stroke="#111" stroke-width="1"/>
<text x="304.20" y="529.20" font-size="12.5" text-anchor="middle" textLength="55.6" lengthAdjust="spacingAndGlyphs" style="">Constant</text>
<text x="414.60" y="529.20" font-size="12.5" text-anchor="middle" textLength="50.8" lengthAdjust="spacingAndGlyphs" style="">Variable</text>
<text x="359.55" y="546.20" font-size="12.3" text-anchor="middle" textLength="32.2" lengthAdjust="spacingAndGlyphs" style="">AAV5</text>
</g>
<line x1="278.20" y1="490.90" x2="440.90" y2="490.90" stroke="#000" stroke-width="2.15" stroke-dasharray="6.9 2.95"/>
<circle cx="293.70" cy="491.75" r="3.6" fill="#ff1a1a" fill-opacity="0.68" stroke="#fff" stroke-opacity="0.85" stroke-width="0.8"/>
<circle cx="286.40" cy="495.65" r="3.6" fill="#ff1a1a" fill-opacity="0.68" stroke="#fff" stroke-opacity="0.85" stroke-width="0.8"/>
<circle cx="314.10" cy="494.85" r="3.6" fill="#ff1a1a" fill-opacity="0.68" stroke="#fff" stroke-opacity="0.85" stroke-width="0.8"/>
<circle cx="320.70" cy="495.65" r="3.6" fill="#ff1a1a" fill-opacity="0.68" stroke="#fff" stroke-opacity="0.85" stroke-width="0.8"/>
<circle cx="290.80" cy="501.05" r="3.6" fill="#ff1a1a" fill-opacity="0.68" stroke="#fff" stroke-opacity="0.85" stroke-width="0.8"/>
<circle cx="295.90" cy="503.65" r="3.6" fill="#ff1a1a" fill-opacity="0.68" stroke="#fff" stroke-opacity="0.85" stroke-width="0.8"/>
<circle cx="302.50" cy="502.55" r="3.6" fill="#ff1a1a" fill-opacity="0.68" stroke="#fff" stroke-opacity="0.85" stroke-width="0.8"/>
<circle cx="315.20" cy="501.05" r="3.6" fill="#ff1a1a" fill-opacity="0.68" stroke="#fff" stroke-opacity="0.85" stroke-width="0.8"/>
<circle cx="286.80" cy="507.25" r="3.6" fill="#ff1a1a" fill-opacity="0.68" stroke="#fff" stroke-opacity="0.85" stroke-width="0.8"/>
<circle cx="295.20" cy="507.25" r="3.6" fill="#ff1a1a" fill-opacity="0.68" stroke="#fff" stroke-opacity="0.85" stroke-width="0.8"/>
<circle cx="295.60" cy="507.55" r="3.6" fill="#ff1a1a" fill-opacity="0.68" stroke="#fff" stroke-opacity="0.85" stroke-width="0.8"/>
<circle cx="302.10" cy="508.05" r="3.6" fill="#ff1a1a" fill-opacity="0.68" stroke="#fff" stroke-opacity="0.85" stroke-width="0.8"/>
<circle cx="308.70" cy="506.55" r="3.6" fill="#ff1a1a" fill-opacity="0.68" stroke="#fff" stroke-opacity="0.85" stroke-width="0.8"/>
<circle cx="309.00" cy="506.85" r="3.6" fill="#ff1a1a" fill-opacity="0.68" stroke="#fff" stroke-opacity="0.85" stroke-width="0.8"/>
<circle cx="316.70" cy="506.55" r="3.6" fill="#ff1a1a" fill-opacity="0.68" stroke="#fff" stroke-opacity="0.85" stroke-width="0.8"/>
<circle cx="316.40" cy="506.85" r="3.6" fill="#ff1a1a" fill-opacity="0.68" stroke="#fff" stroke-opacity="0.85" stroke-width="0.8"/>
<circle cx="305.70" cy="508.35" r="3.6" fill="#ff1a1a" fill-opacity="0.68" stroke="#fff" stroke-opacity="0.85" stroke-width="0.8"/>
<circle cx="296.20" cy="503.85" r="3.6" fill="#ff1a1a" fill-opacity="0.68" stroke="#fff" stroke-opacity="0.85" stroke-width="0.8"/>
<circle cx="309.20" cy="506.45" r="3.6" fill="#ff1a1a" fill-opacity="0.68" stroke="#fff" stroke-opacity="0.85" stroke-width="0.8"/>
<circle cx="316.50" cy="506.35" r="3.6" fill="#ff1a1a" fill-opacity="0.68" stroke="#fff" stroke-opacity="0.85" stroke-width="0.8"/>
<circle cx="432.50" cy="491.65" r="3.6" fill="#ff1a1a" fill-opacity="0.68" stroke="#fff" stroke-opacity="0.85" stroke-width="0.8"/>
<circle cx="432.20" cy="491.45" r="3.6" fill="#ff1a1a" fill-opacity="0.68" stroke="#fff" stroke-opacity="0.85" stroke-width="0.8"/>
<circle cx="432.80" cy="497.85" r="3.6" fill="#ff1a1a" fill-opacity="0.68" stroke="#fff" stroke-opacity="0.85" stroke-width="0.8"/>
<circle cx="433.10" cy="503.75" r="3.6" fill="#ff1a1a" fill-opacity="0.68" stroke="#fff" stroke-opacity="0.85" stroke-width="0.8"/>
<circle cx="414.20" cy="505.05" r="3.6" fill="#ff1a1a" fill-opacity="0.68" stroke="#fff" stroke-opacity="0.85" stroke-width="0.8"/>
<circle cx="398.70" cy="507.15" r="3.6" fill="#ff1a1a" fill-opacity="0.68" stroke="#fff" stroke-opacity="0.85" stroke-width="0.8"/>
<circle cx="402.00" cy="506.95" r="3.6" fill="#ff1a1a" fill-opacity="0.68" stroke="#fff" stroke-opacity="0.85" stroke-width="0.8"/>
<circle cx="401.60" cy="507.25" r="3.6" fill="#ff1a1a" fill-opacity="0.68" stroke="#fff" stroke-opacity="0.85" stroke-width="0.8"/>
<circle cx="408.70" cy="507.35" r="3.6" fill="#ff1a1a" fill-opacity="0.68" stroke="#fff" stroke-opacity="0.85" stroke-width="0.8"/>
<circle cx="409.00" cy="507.55" r="3.6" fill="#ff1a1a" fill-opacity="0.68" stroke="#fff" stroke-opacity="0.85" stroke-width="0.8"/>
<circle cx="423.40" cy="507.55" r="3.6" fill="#ff1a1a" fill-opacity="0.68" stroke="#fff" stroke-opacity="0.85" stroke-width="0.8"/>
<circle cx="423.70" cy="507.75" r="3.6" fill="#ff1a1a" fill-opacity="0.68" stroke="#fff" stroke-opacity="0.85" stroke-width="0.8"/>
<circle cx="423.20" cy="507.35" r="3.6" fill="#ff1a1a" fill-opacity="0.68" stroke="#fff" stroke-opacity="0.85" stroke-width="0.8"/>
<circle cx="428.60" cy="507.55" r="3.6" fill="#ff1a1a" fill-opacity="0.68" stroke="#fff" stroke-opacity="0.85" stroke-width="0.8"/>
<circle cx="299.20" cy="462.35" r="3.6" fill="#2a9d8f" fill-opacity="0.68" stroke="#fff" stroke-opacity="0.85" stroke-width="0.8"/>
<circle cx="302.50" cy="461.25" r="3.6" fill="#2a9d8f" fill-opacity="0.68" stroke="#fff" stroke-opacity="0.85" stroke-width="0.8"/>
<circle cx="301.00" cy="461.95" r="3.6" fill="#2a9d8f" fill-opacity="0.68" stroke="#fff" stroke-opacity="0.85" stroke-width="0.8"/>
<circle cx="294.80" cy="468.95" r="3.6" fill="#2a9d8f" fill-opacity="0.68" stroke="#fff" stroke-opacity="0.85" stroke-width="0.8"/>
<circle cx="306.80" cy="469.65" r="3.6" fill="#2a9d8f" fill-opacity="0.68" stroke="#fff" stroke-opacity="0.85" stroke-width="0.8"/>
<circle cx="292.20" cy="474.75" r="3.6" fill="#2a9d8f" fill-opacity="0.68" stroke="#fff" stroke-opacity="0.85" stroke-width="0.8"/>
<circle cx="305.40" cy="476.65" r="3.6" fill="#2a9d8f" fill-opacity="0.68" stroke="#fff" stroke-opacity="0.85" stroke-width="0.8"/>
<circle cx="295.80" cy="487.95" r="3.6" fill="#2a9d8f" fill-opacity="0.68" stroke="#fff" stroke-opacity="0.85" stroke-width="0.8"/>
<circle cx="300.60" cy="478.75" r="3.6" fill="#2a9d8f" fill-opacity="0.68" stroke="#fff" stroke-opacity="0.85" stroke-width="0.8"/>
<circle cx="287.00" cy="480.75" r="3.6" fill="#2a9d8f" fill-opacity="0.68" stroke="#fff" stroke-opacity="0.85" stroke-width="0.8"/>
<circle cx="287.50" cy="478.85" r="3.6" fill="#2a9d8f" fill-opacity="0.68" stroke="#fff" stroke-opacity="0.85" stroke-width="0.8"/>
<circle cx="284.40" cy="483.05" r="3.6" fill="#2a9d8f" fill-opacity="0.68" stroke="#fff" stroke-opacity="0.85" stroke-width="0.8"/>
<circle cx="290.60" cy="485.55" r="3.6" fill="#2a9d8f" fill-opacity="0.68" stroke="#fff" stroke-opacity="0.85" stroke-width="0.8"/>
<circle cx="300.10" cy="481.45" r="3.6" fill="#2a9d8f" fill-opacity="0.68" stroke="#fff" stroke-opacity="0.85" stroke-width="0.8"/>
<circle cx="303.90" cy="483.75" r="3.6" fill="#2a9d8f" fill-opacity="0.68" stroke="#fff" stroke-opacity="0.85" stroke-width="0.8"/>
<circle cx="311.20" cy="479.25" r="3.6" fill="#2a9d8f" fill-opacity="0.68" stroke="#fff" stroke-opacity="0.85" stroke-width="0.8"/>
<circle cx="286.40" cy="489.45" r="3.6" fill="#2a9d8f" fill-opacity="0.68" stroke="#fff" stroke-opacity="0.85" stroke-width="0.8"/>
<circle cx="299.50" cy="490.45" r="3.6" fill="#2a9d8f" fill-opacity="0.68" stroke="#fff" stroke-opacity="0.85" stroke-width="0.8"/>
<circle cx="314.90" cy="489.45" r="3.6" fill="#2a9d8f" fill-opacity="0.68" stroke="#fff" stroke-opacity="0.85" stroke-width="0.8"/>
<circle cx="406.90" cy="328.25" r="3.6" fill="#2a9d8f" fill-opacity="0.68" stroke="#fff" stroke-opacity="0.85" stroke-width="0.8"/>
<circle cx="431.20" cy="328.25" r="3.6" fill="#2a9d8f" fill-opacity="0.68" stroke="#fff" stroke-opacity="0.85" stroke-width="0.8"/>
<circle cx="397.40" cy="376.95" r="3.6" fill="#2a9d8f" fill-opacity="0.68" stroke="#fff" stroke-opacity="0.85" stroke-width="0.8"/>
<circle cx="422.40" cy="384.65" r="3.6" fill="#2a9d8f" fill-opacity="0.68" stroke="#fff" stroke-opacity="0.85" stroke-width="0.8"/>
<circle cx="418.80" cy="389.05" r="3.6" fill="#2a9d8f" fill-opacity="0.68" stroke="#fff" stroke-opacity="0.85" stroke-width="0.8"/>
<circle cx="398.30" cy="390.05" r="3.6" fill="#2a9d8f" fill-opacity="0.68" stroke="#fff" stroke-opacity="0.85" stroke-width="0.8"/>
<circle cx="405.60" cy="392.05" r="3.6" fill="#2a9d8f" fill-opacity="0.68" stroke="#fff" stroke-opacity="0.85" stroke-width="0.8"/>
<circle cx="399.50" cy="399.15" r="3.6" fill="#2a9d8f" fill-opacity="0.68" stroke="#fff" stroke-opacity="0.85" stroke-width="0.8"/>
<circle cx="396.30" cy="402.65" r="3.6" fill="#2a9d8f" fill-opacity="0.68" stroke="#fff" stroke-opacity="0.85" stroke-width="0.8"/>
<circle cx="408.70" cy="407.25" r="3.6" fill="#2a9d8f" fill-opacity="0.68" stroke="#fff" stroke-opacity="0.85" stroke-width="0.8"/>
<circle cx="406.90" cy="411.35" r="3.6" fill="#2a9d8f" fill-opacity="0.68" stroke="#fff" stroke-opacity="0.85" stroke-width="0.8"/>
<circle cx="426.10" cy="410.65" r="3.6" fill="#2a9d8f" fill-opacity="0.68" stroke="#fff" stroke-opacity="0.85" stroke-width="0.8"/>
<circle cx="429.40" cy="415.85" r="3.6" fill="#2a9d8f" fill-opacity="0.68" stroke="#fff" stroke-opacity="0.85" stroke-width="0.8"/>
<circle cx="416.60" cy="420.85" r="3.6" fill="#2a9d8f" fill-opacity="0.68" stroke="#fff" stroke-opacity="0.85" stroke-width="0.8"/>
<circle cx="408.10" cy="422.35" r="3.6" fill="#2a9d8f" fill-opacity="0.68" stroke="#fff" stroke-opacity="0.85" stroke-width="0.8"/>
<circle cx="430.80" cy="421.65" r="3.6" fill="#2a9d8f" fill-opacity="0.68" stroke="#fff" stroke-opacity="0.85" stroke-width="0.8"/>
<circle cx="424.10" cy="426.85" r="3.6" fill="#2a9d8f" fill-opacity="0.68" stroke="#fff" stroke-opacity="0.85" stroke-width="0.8"/>
<circle cx="416.90" cy="430.15" r="3.6" fill="#2a9d8f" fill-opacity="0.68" stroke="#fff" stroke-opacity="0.85" stroke-width="0.8"/>
<circle cx="399.20" cy="433.55" r="3.6" fill="#2a9d8f" fill-opacity="0.68" stroke="#fff" stroke-opacity="0.85" stroke-width="0.8"/>
<circle cx="410.40" cy="435.75" r="3.6" fill="#2a9d8f" fill-opacity="0.68" stroke="#fff" stroke-opacity="0.85" stroke-width="0.8"/>
<circle cx="410.00" cy="435.45" r="3.6" fill="#2a9d8f" fill-opacity="0.68" stroke="#fff" stroke-opacity="0.85" stroke-width="0.8"/>
<circle cx="413.30" cy="436.25" r="3.6" fill="#2a9d8f" fill-opacity="0.68" stroke="#fff" stroke-opacity="0.85" stroke-width="0.8"/>
<circle cx="421.60" cy="443.45" r="3.6" fill="#2a9d8f" fill-opacity="0.68" stroke="#fff" stroke-opacity="0.85" stroke-width="0.8"/>
<circle cx="431.90" cy="443.25" r="3.6" fill="#2a9d8f" fill-opacity="0.68" stroke="#fff" stroke-opacity="0.85" stroke-width="0.8"/>
<circle cx="430.20" cy="448.95" r="3.6" fill="#2a9d8f" fill-opacity="0.68" stroke="#fff" stroke-opacity="0.85" stroke-width="0.8"/>
<circle cx="397.40" cy="452.25" r="3.6" fill="#2a9d8f" fill-opacity="0.68" stroke="#fff" stroke-opacity="0.85" stroke-width="0.8"/>
<circle cx="425.00" cy="451.75" r="3.6" fill="#2a9d8f" fill-opacity="0.68" stroke="#fff" stroke-opacity="0.85" stroke-width="0.8"/>
<circle cx="430.00" cy="457.95" r="3.6" fill="#2a9d8f" fill-opacity="0.68" stroke="#fff" stroke-opacity="0.85" stroke-width="0.8"/>
<circle cx="409.00" cy="467.75" r="3.6" fill="#2a9d8f" fill-opacity="0.68" stroke="#fff" stroke-opacity="0.85" stroke-width="0.8"/>
<circle cx="428.60" cy="468.45" r="3.6" fill="#2a9d8f" fill-opacity="0.68" stroke="#fff" stroke-opacity="0.85" stroke-width="0.8"/>
<circle cx="414.90" cy="481.55" r="3.6" fill="#2a9d8f" fill-opacity="0.68" stroke="#fff" stroke-opacity="0.85" stroke-width="0.8"/>
<circle cx="415.20" cy="481.75" r="3.6" fill="#2a9d8f" fill-opacity="0.68" stroke="#fff" stroke-opacity="0.85" stroke-width="0.8"/>
<circle cx="427.50" cy="483.75" r="3.6" fill="#2a9d8f" fill-opacity="0.68" stroke="#fff" stroke-opacity="0.85" stroke-width="0.8"/>
<line x1="286.40" y1="495.65" x2="397.40" y2="452.25" stroke="#b2aeae" stroke-width="0.8"/>
<line x1="293.70" y1="491.75" x2="425.00" y2="451.75" stroke="#b2aeae" stroke-width="0.8"/>
<line x1="314.10" y1="494.85" x2="409.00" y2="467.75" stroke="#b2aeae" stroke-width="0.8"/>
<line x1="320.70" y1="495.65" x2="428.60" y2="468.45" stroke="#b2aeae" stroke-width="0.8"/>
<line x1="302.50" y1="502.55" x2="414.90" y2="481.55" stroke="#b2aeae" stroke-width="0.8"/>
<line x1="315.20" y1="501.05" x2="427.50" y2="483.75" stroke="#b2aeae" stroke-width="0.8"/>
<line x1="295.90" y1="503.65" x2="415.20" y2="481.75" stroke="#b2aeae" stroke-width="0.8"/>
<text x="281.70" y="310.60" font-size="12.3" text-anchor="start" textLength="174.5" lengthAdjust="spacingAndGlyphs" style="">Discordant samples: 15.2 %</text>
<text x="282.30" y="324.00" font-size="13.2" font-style="italic">p</text>
<rect x="293.00" y="318.70" width="9.2" height="1.05" fill="#000"/>
<rect x="293.00" y="321.00" width="9.2" height="1.05" fill="#000"/>
<text x="305.50" y="324.00" font-size="12.3" text-anchor="start" textLength="33.8" lengthAdjust="spacingAndGlyphs" style="">0.016</text>
<text x="261.00" y="304.10" font-size="19.2" text-anchor="start" style="">E</text>
<g>
<line x1="500.20" y1="511.00" x2="663.30" y2="511.00" stroke="#111" stroke-width="1"/>
<line x1="526.50" y1="511.00" x2="526.50" y2="515.20" stroke="#111" stroke-width="1"/>
<line x1="637.40" y1="511.00" x2="637.40" y2="515.20" stroke="#111" stroke-width="1"/>
<text x="526.50" y="529.20" font-size="12.5" text-anchor="middle" textLength="55.6" lengthAdjust="spacingAndGlyphs" style="">Constant</text>
<text x="637.10" y="529.20" font-size="12.5" text-anchor="middle" textLength="50.8" lengthAdjust="spacingAndGlyphs" style="">Variable</text>
<text x="581.75" y="546.20" font-size="12.3" text-anchor="middle" textLength="32.2" lengthAdjust="spacingAndGlyphs" style="">AAV9</text>
</g>
<line x1="500.20" y1="490.90" x2="663.30" y2="490.90" stroke="#000" stroke-width="2.15" stroke-dasharray="6.9 2.95"/>
<circle cx="508.00" cy="494.55" r="3.6" fill="#ff1a1a" fill-opacity="0.68" stroke="#fff" stroke-opacity="0.85" stroke-width="0.8"/>
<circle cx="512.70" cy="493.55" r="3.6" fill="#ff1a1a" fill-opacity="0.68" stroke="#fff" stroke-opacity="0.85" stroke-width="0.8"/>
<circle cx="517.90" cy="498.25" r="3.6" fill="#ff1a1a" fill-opacity="0.68" stroke="#fff" stroke-opacity="0.85" stroke-width="0.8"/>
<circle cx="524.70" cy="494.55" r="3.6" fill="#ff1a1a" fill-opacity="0.68" stroke="#fff" stroke-opacity="0.85" stroke-width="0.8"/>
<circle cx="536.20" cy="494.55" r="3.6" fill="#ff1a1a" fill-opacity="0.68" stroke="#fff" stroke-opacity="0.85" stroke-width="0.8"/>
<circle cx="538.80" cy="500.35" r="3.6" fill="#ff1a1a" fill-opacity="0.68" stroke="#fff" stroke-opacity="0.85" stroke-width="0.8"/>
<circle cx="539.10" cy="500.05" r="3.6" fill="#ff1a1a" fill-opacity="0.68" stroke="#fff" stroke-opacity="0.85" stroke-width="0.8"/>
<circle cx="531.50" cy="501.85" r="3.6" fill="#ff1a1a" fill-opacity="0.68" stroke="#fff" stroke-opacity="0.85" stroke-width="0.8"/>
<circle cx="538.80" cy="504.45" r="3.6" fill="#ff1a1a" fill-opacity="0.68" stroke="#fff" stroke-opacity="0.85" stroke-width="0.8"/>
<circle cx="513.20" cy="503.45" r="3.6" fill="#ff1a1a" fill-opacity="0.68" stroke="#fff" stroke-opacity="0.85" stroke-width="0.8"/>
<circle cx="509.10" cy="507.65" r="3.6" fill="#ff1a1a" fill-opacity="0.68" stroke="#fff" stroke-opacity="0.85" stroke-width="0.8"/>
<circle cx="517.90" cy="508.15" r="3.6" fill="#ff1a1a" fill-opacity="0.68" stroke="#fff" stroke-opacity="0.85" stroke-width="0.8"/>
<circle cx="517.60" cy="507.75" r="3.6" fill="#ff1a1a" fill-opacity="0.68" stroke="#fff" stroke-opacity="0.85" stroke-width="0.8"/>
<circle cx="525.80" cy="507.65" r="3.6" fill="#ff1a1a" fill-opacity="0.68" stroke="#fff" stroke-opacity="0.85" stroke-width="0.8"/>
<circle cx="529.40" cy="507.65" r="3.6" fill="#ff1a1a" fill-opacity="0.68" stroke="#fff" stroke-opacity="0.85" stroke-width="0.8"/>
<circle cx="529.70" cy="507.45" r="3.6" fill="#ff1a1a" fill-opacity="0.68" stroke="#fff" stroke-opacity="0.85" stroke-width="0.8"/>
<circle cx="532.50" cy="507.65" r="3.6" fill="#ff1a1a" fill-opacity="0.68" stroke="#fff" stroke-opacity="0.85" stroke-width="0.8"/>
<circle cx="513.50" cy="503.25" r="3.6" fill="#ff1a1a" fill-opacity="0.68" stroke="#fff" stroke-opacity="0.85" stroke-width="0.8"/>
<circle cx="538.60" cy="504.65" r="3.6" fill="#ff1a1a" fill-opacity="0.68" stroke="#fff" stroke-opacity="0.85" stroke-width="0.8"/>
<circle cx="624.20" cy="496.45" r="3.6" fill="#ff1a1a" fill-opacity="0.68" stroke="#fff" stroke-opacity="0.85" stroke-width="0.8"/>
<circle cx="625.80" cy="501.85" r="3.6" fill="#ff1a1a" fill-opacity="0.68" stroke="#fff" stroke-opacity="0.85" stroke-width="0.8"/>
<circle cx="655.60" cy="501.85" r="3.6" fill="#ff1a1a" fill-opacity="0.68" stroke="#fff" stroke-opacity="0.85" stroke-width="0.8"/>
<circle cx="621.20" cy="507.55" r="3.6" fill="#ff1a1a" fill-opacity="0.68" stroke="#fff" stroke-opacity="0.85" stroke-width="0.8"/>
<circle cx="631.50" cy="507.55" r="3.6" fill="#ff1a1a" fill-opacity="0.68" stroke="#fff" stroke-opacity="0.85" stroke-width="0.8"/>
<circle cx="631.80" cy="507.35" r="3.6" fill="#ff1a1a" fill-opacity="0.68" stroke="#fff" stroke-opacity="0.85" stroke-width="0.8"/>
<circle cx="639.40" cy="504.45" r="3.6" fill="#ff1a1a" fill-opacity="0.68" stroke="#fff" stroke-opacity="0.85" stroke-width="0.8"/>
<circle cx="646.10" cy="507.55" r="3.6" fill="#ff1a1a" fill-opacity="0.68" stroke="#fff" stroke-opacity="0.85" stroke-width="0.8"/>
<circle cx="645.80" cy="507.75" r="3.6" fill="#ff1a1a" fill-opacity="0.68" stroke="#fff" stroke-opacity="0.85" stroke-width="0.8"/>
<circle cx="646.40" cy="507.35" r="3.6" fill="#ff1a1a" fill-opacity="0.68" stroke="#fff" stroke-opacity="0.85" stroke-width="0.8"/>
<circle cx="650.50" cy="507.55" r="3.6" fill="#ff1a1a" fill-opacity="0.68" stroke="#fff" stroke-opacity="0.85" stroke-width="0.8"/>
<circle cx="509.80" cy="466.75" r="3.6" fill="#2a9d8f" fill-opacity="0.68" stroke="#fff" stroke-opacity="0.85" stroke-width="0.8"/>
<circle cx="508.50" cy="472.15" r="3.6" fill="#2a9d8f" fill-opacity="0.68" stroke="#fff" stroke-opacity="0.85" stroke-width="0.8"/>
<circle cx="515.30" cy="471.65" r="3.6" fill="#2a9d8f" fill-opacity="0.68" stroke="#fff" stroke-opacity="0.85" stroke-width="0.8"/>
<circle cx="522.10" cy="469.05" r="3.6" fill="#2a9d8f" fill-opacity="0.68" stroke="#fff" stroke-opacity="0.85" stroke-width="0.8"/>
<circle cx="524.70" cy="472.15" r="3.6" fill="#2a9d8f" fill-opacity="0.68" stroke="#fff" stroke-opacity="0.85" stroke-width="0.8"/>
<circle cx="525.00" cy="471.85" r="3.6" fill="#2a9d8f" fill-opacity="0.68" stroke="#fff" stroke-opacity="0.85" stroke-width="0.8"/>
<circle cx="522.60" cy="473.15" r="3.6" fill="#2a9d8f" fill-opacity="0.68" stroke="#fff" stroke-opacity="0.85" stroke-width="0.8"/>
<circle cx="530.50" cy="473.15" r="3.6" fill="#2a9d8f" fill-opacity="0.68" stroke="#fff" stroke-opacity="0.85" stroke-width="0.8"/>
<circle cx="533.60" cy="472.15" r="3.6" fill="#2a9d8f" fill-opacity="0.68" stroke="#fff" stroke-opacity="0.85" stroke-width="0.8"/>
<circle cx="513.80" cy="472.65" r="3.6" fill="#2a9d8f" fill-opacity="0.68" stroke="#fff" stroke-opacity="0.85" stroke-width="0.8"/>
<circle cx="508.50" cy="479.95" r="3.6" fill="#2a9d8f" fill-opacity="0.68" stroke="#fff" stroke-opacity="0.85" stroke-width="0.8"/>
<circle cx="513.20" cy="481.05" r="3.6" fill="#2a9d8f" fill-opacity="0.68" stroke="#fff" stroke-opacity="0.85" stroke-width="0.8"/>
<circle cx="524.70" cy="480.45" r="3.6" fill="#2a9d8f" fill-opacity="0.68" stroke="#fff" stroke-opacity="0.85" stroke-width="0.8"/>
<circle cx="527.90" cy="481.05" r="3.6" fill="#2a9d8f" fill-opacity="0.68" stroke="#fff" stroke-opacity="0.85" stroke-width="0.8"/>
<circle cx="537.20" cy="482.55" r="3.6" fill="#2a9d8f" fill-opacity="0.68" stroke="#fff" stroke-opacity="0.85" stroke-width="0.8"/>
<circle cx="543.00" cy="484.65" r="3.6" fill="#2a9d8f" fill-opacity="0.68" stroke="#fff" stroke-opacity="0.85" stroke-width="0.8"/>
<circle cx="514.30" cy="486.75" r="3.6" fill="#2a9d8f" fill-opacity="0.68" stroke="#fff" stroke-opacity="0.85" stroke-width="0.8"/>
<circle cx="521.60" cy="485.75" r="3.6" fill="#2a9d8f" fill-opacity="0.68" stroke="#fff" stroke-opacity="0.85" stroke-width="0.8"/>
<circle cx="526.80" cy="487.75" r="3.6" fill="#2a9d8f" fill-opacity="0.68" stroke="#fff" stroke-opacity="0.85" stroke-width="0.8"/>
<circle cx="639.10" cy="367.55" r="3.6" fill="#2a9d8f" fill-opacity="0.68" stroke="#fff" stroke-opacity="0.85" stroke-width="0.8"/>
<circle cx="619.10" cy="373.45" r="3.6" fill="#2a9d8f" fill-opacity="0.68" stroke="#fff" stroke-opacity="0.85" stroke-width="0.8"/>
<circle cx="631.60" cy="382.45" r="3.6" fill="#2a9d8f" fill-opacity="0.68" stroke="#fff" stroke-opacity="0.85" stroke-width="0.8"/>
<circle cx="632.70" cy="384.85" r="3.6" fill="#2a9d8f" fill-opacity="0.68" stroke="#fff" stroke-opacity="0.85" stroke-width="0.8"/>
<circle cx="633.00" cy="385.15" r="3.6" fill="#2a9d8f" fill-opacity="0.68" stroke="#fff" stroke-opacity="0.85" stroke-width="0.8"/>
<circle cx="646.40" cy="403.85" r="3.6" fill="#2a9d8f" fill-opacity="0.68" stroke="#fff" stroke-opacity="0.85" stroke-width="0.8"/>
<circle cx="650.90" cy="413.75" r="3.6" fill="#2a9d8f" fill-opacity="0.68" stroke="#fff" stroke-opacity="0.85" stroke-width="0.8"/>
<circle cx="630.40" cy="419.95" r="3.6" fill="#2a9d8f" fill-opacity="0.68" stroke="#fff" stroke-opacity="0.85" stroke-width="0.8"/>
<circle cx="654.50" cy="420.05" r="3.6" fill="#2a9d8f" fill-opacity="0.68" stroke="#fff" stroke-opacity="0.85" stroke-width="0.8"/>
<circle cx="651.70" cy="428.05" r="3.6" fill="#2a9d8f" fill-opacity="0.68" stroke="#fff" stroke-opacity="0.85" stroke-width="0.8"/>
<circle cx="621.50" cy="439.15" r="3.6" fill="#2a9d8f" fill-opacity="0.68" stroke="#fff" stroke-opacity="0.85" stroke-width="0.8"/>
<circle cx="621.50" cy="436.45" r="3.6" fill="#2a9d8f" fill-opacity="0.68" stroke="#fff" stroke-opacity="0.85" stroke-width="0.8"/>
<circle cx="621.70" cy="436.75" r="3.6" fill="#2a9d8f" fill-opacity="0.68" stroke="#fff" stroke-opacity="0.85" stroke-width="0.8"/>
<circle cx="631.60" cy="443.15" r="3.6" fill="#2a9d8f" fill-opacity="0.68" stroke="#fff" stroke-opacity="0.85" stroke-width="0.8"/>
<circle cx="629.20" cy="449.15" r="3.6" fill="#2a9d8f" fill-opacity="0.68" stroke="#fff" stroke-opacity="0.85" stroke-width="0.8"/>
<circle cx="629.50" cy="448.85" r="3.6" fill="#2a9d8f" fill-opacity="0.68" stroke="#fff" stroke-opacity="0.85" stroke-width="0.8"/>
<circle cx="627.90" cy="452.75" r="3.6" fill="#2a9d8f" fill-opacity="0.68" stroke="#fff" stroke-opacity="0.85" stroke-width="0.8"/>
<circle cx="635.60" cy="450.55" r="3.6" fill="#2a9d8f" fill-opacity="0.68" stroke="#fff" stroke-opacity="0.85" stroke-width="0.8"/>
<circle cx="638.00" cy="453.85" r="3.6" fill="#2a9d8f" fill-opacity="0.68" stroke="#fff" stroke-opacity="0.85" stroke-width="0.8"/>
<circle cx="638.20" cy="454.15" r="3.6" fill="#2a9d8f" fill-opacity="0.68" stroke="#fff" stroke-opacity="0.85" stroke-width="0.8"/>
<circle cx="636.90" cy="456.65" r="3.6" fill="#2a9d8f" fill-opacity="0.68" stroke="#fff" stroke-opacity="0.85" stroke-width="0.8"/>
<circle cx="647.90" cy="451.65" r="3.6" fill="#2a9d8f" fill-opacity="0.68" stroke="#fff" stroke-opacity="0.85" stroke-width="0.8"/>
<circle cx="647.00" cy="454.95" r="3.6" fill="#2a9d8f" fill-opacity="0.68" stroke="#fff" stroke-opacity="0.85" stroke-width="0.8"/>
<circle cx="651.70" cy="450.05" r="3.6" fill="#2a9d8f" fill-opacity="0.68" stroke="#fff" stroke-opacity="0.85" stroke-width="0.8"/>
<circle cx="655.00" cy="451.95" r="3.6" fill="#2a9d8f" fill-opacity="0.68" stroke="#fff" stroke-opacity="0.85" stroke-width="0.8"/>
<circle cx="654.70" cy="452.25" r="3.6" fill="#2a9d8f" fill-opacity="0.68" stroke="#fff" stroke-opacity="0.85" stroke-width="0.8"/>
<circle cx="654.50" cy="458.85" r="3.6" fill="#2a9d8f" fill-opacity="0.68" stroke="#fff" stroke-opacity="0.85" stroke-width="0.8"/>
<circle cx="641.50" cy="460.65" r="3.6" fill="#2a9d8f" fill-opacity="0.68" stroke="#fff" stroke-opacity="0.85" stroke-width="0.8"/>
<circle cx="619.70" cy="461.95" r="3.6" fill="#2a9d8f" fill-opacity="0.68" stroke="#fff" stroke-opacity="0.85" stroke-width="0.8"/>
<circle cx="653.60" cy="466.65" r="3.6" fill="#2a9d8f" fill-opacity="0.68" stroke="#fff" stroke-opacity="0.85" stroke-width="0.8"/>
<circle cx="629.10" cy="469.45" r="3.6" fill="#2a9d8f" fill-opacity="0.68" stroke="#fff" stroke-opacity="0.85" stroke-width="0.8"/>
<circle cx="636.40" cy="470.45" r="3.6" fill="#2a9d8f" fill-opacity="0.68" stroke="#fff" stroke-opacity="0.85" stroke-width="0.8"/>
<circle cx="619.60" cy="477.55" r="3.6" fill="#2a9d8f" fill-opacity="0.68" stroke="#fff" stroke-opacity="0.85" stroke-width="0.8"/>
<circle cx="652.90" cy="475.65" r="3.6" fill="#2a9d8f" fill-opacity="0.68" stroke="#fff" stroke-opacity="0.85" stroke-width="0.8"/>
<circle cx="644.30" cy="481.45" r="3.6" fill="#2a9d8f" fill-opacity="0.68" stroke="#fff" stroke-opacity="0.85" stroke-width="0.8"/>
<circle cx="644.10" cy="481.15" r="3.6" fill="#2a9d8f" fill-opacity="0.68" stroke="#fff" stroke-opacity="0.85" stroke-width="0.8"/>
<circle cx="643.90" cy="478.45" r="3.6" fill="#2a9d8f" fill-opacity="0.68" stroke="#fff" stroke-opacity="0.85" stroke-width="0.8"/>
<circle cx="650.20" cy="481.55" r="3.6" fill="#2a9d8f" fill-opacity="0.68" stroke="#fff" stroke-opacity="0.85" stroke-width="0.8"/>
<circle cx="655.60" cy="488.85" r="3.6" fill="#2a9d8f" fill-opacity="0.68" stroke="#fff" stroke-opacity="0.85" stroke-width="0.8"/>
<line x1="513.30" y1="494.55" x2="619.70" y2="461.95" stroke="#b2aeae" stroke-width="0.8"/>
<line x1="524.80" y1="494.55" x2="636.10" y2="454.95" stroke="#b2aeae" stroke-width="0.8"/>
<line x1="536.70" y1="494.55" x2="641.50" y2="460.65" stroke="#b2aeae" stroke-width="0.8"/>
<line x1="517.60" y1="498.35" x2="654.50" y2="458.85" stroke="#b2aeae" stroke-width="0.8"/>
<line x1="538.60" y1="500.25" x2="653.00" y2="452.55" stroke="#b2aeae" stroke-width="0.8"/>
<line x1="531.40" y1="501.75" x2="619.60" y2="477.55" stroke="#b2aeae" stroke-width="0.8"/>
<line x1="507.10" y1="495.05" x2="643.90" y2="478.45" stroke="#b2aeae" stroke-width="0.8"/>
<line x1="538.60" y1="505.55" x2="644.30" y2="481.45" stroke="#b2aeae" stroke-width="0.8"/>
<line x1="512.90" y1="504.05" x2="650.20" y2="481.55" stroke="#b2aeae" stroke-width="0.8"/>
<line x1="532.50" y1="507.65" x2="655.60" y2="488.85" stroke="#b2aeae" stroke-width="0.8"/>
<text x="503.70" y="310.60" font-size="12.3" text-anchor="start" textLength="174.5" lengthAdjust="spacingAndGlyphs" style="">Discordant samples: 21.7 %</text>
<text x="504.30" y="324.00" font-size="13.2" font-style="italic">p</text>
<rect x="515.00" y="318.70" width="9.2" height="1.05" fill="#000"/>
<rect x="515.00" y="321.00" width="9.2" height="1.05" fill="#000"/>
<text x="527.50" y="324.00" font-size="12.3" text-anchor="start" textLength="33.8" lengthAdjust="spacingAndGlyphs" style="">0.002</text>
<text x="483.40" y="304.10" font-size="19.2" text-anchor="start" style="">F</text>
</svg>
</body></html>
